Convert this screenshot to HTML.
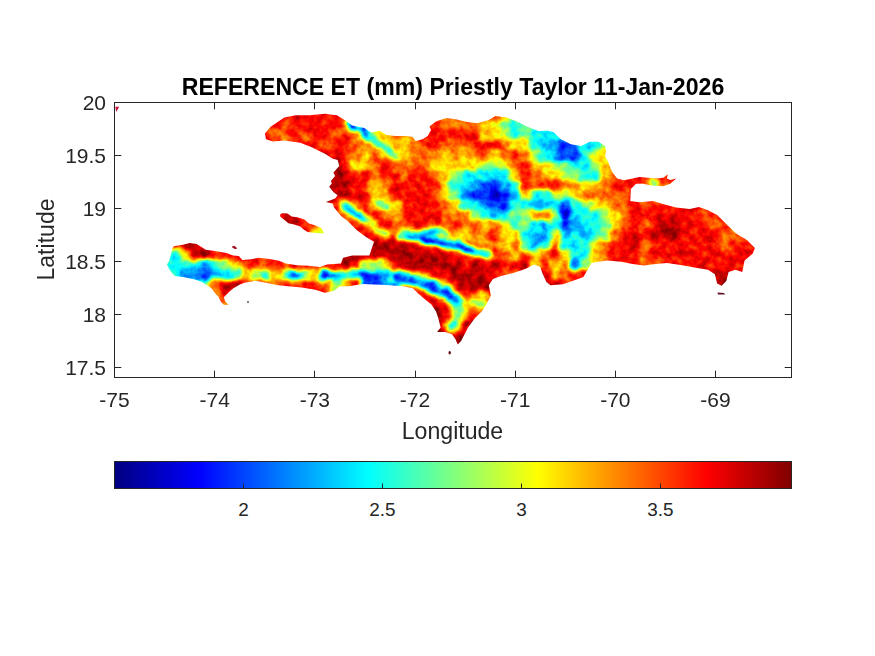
<!DOCTYPE html>
<html><head><meta charset="utf-8"><style>
html,body{margin:0;padding:0;background:#fff;width:875px;height:656px;overflow:hidden}
svg{position:absolute;left:0;top:0}
text{font-family:"Liberation Sans",sans-serif;fill:#262626}
.tk{font-size:21px}
.cb{font-size:18.9px}
.ti{font-size:23.1px;font-weight:bold;fill:#000}
.lb{font-size:23.1px}
</style></head><body>
<svg width="875" height="656" viewBox="0 0 875 656">
<defs><linearGradient id="jetgrad" x1="0" x2="1" y1="0" y2="0"><stop offset="0" stop-color="#000080"/><stop offset="0.125" stop-color="#0000ff"/><stop offset="0.375" stop-color="#00ffff"/><stop offset="0.625" stop-color="#ffff00"/><stop offset="0.875" stop-color="#ff0000"/><stop offset="1" stop-color="#800000"/></linearGradient><filter id="jet" x="0" y="0" width="875" height="656" filterUnits="userSpaceOnUse" color-interpolation-filters="sRGB">
<feTurbulence type="fractalNoise" baseFrequency="0.09" numOctaves="2" seed="11" result="warp"/>
<feDisplacementMap in="SourceGraphic" in2="warp" scale="9" xChannelSelector="R" yChannelSelector="G" result="disp"/>
<feGaussianBlur in="disp" stdDeviation="2" result="b"/>
<feTurbulence type="fractalNoise" baseFrequency="0.14" numOctaves="3" seed="7" result="n"/>
<feColorMatrix in="n" type="matrix" values="1 0 0 0 0  1 0 0 0 0  1 0 0 0 0  0 0 0 0 1" result="ng"/>
<feComposite in="b" in2="ng" operator="arithmetic" k1="0" k2="1" k3="0.22" k4="-0.11" result="v"/>
<feComponentTransfer in="v">
<feFuncR type="table" tableValues="0 0 0 0 0.5 1 1 1 0.5"/>
<feFuncG type="table" tableValues="0 0 0.5 1 1 1 0.5 0 0"/>
<feFuncB type="table" tableValues="0.5 1 1 1 0.5 0 0 0 0"/>
<feFuncA type="identity"/>
</feComponentTransfer>
</filter></defs>
<clipPath id="isl"><polygon points="264.9,133.6 270.6,126.7 284.3,117.6 295.7,115.3 309.4,115.3 325.4,113.7 330.0,114.4 336.9,115.3 345.4,120.4 352.3,125.6 364.3,128.1 371.1,132.4 379.7,130.7 386.6,135.0 395.1,135.9 405.4,135.9 412.3,136.7 415.7,141.0 422.6,139.3 427.7,135.9 431.1,129.9 429.4,126.4 436.3,121.3 446.6,117.9 456.9,119.6 467.1,122.1 477.1,123.3 488.6,119.9 495.4,116.0 506.9,117.6 516.0,121.0 527.4,126.7 538.9,131.3 546.9,130.6 553.7,132.3 560.6,139.1 570.9,144.3 581.1,146.0 589.7,141.7 598.3,141.7 605.1,146.0 606.0,151.1 605.1,156.3 608.6,163.1 612.0,171.7 617.1,178.6 624.0,180.3 632.6,178.6 639.4,176.9 648.0,177.7 656.6,178.6 663.4,177.7 667.7,174.3 666.9,178.6 670.3,180.0 676.3,178.6 670.3,183.7 663.4,186.3 651.4,185.4 642.9,183.7 636.0,183.7 630.9,188.9 630.3,201.1 639.4,202.3 653.1,201.1 664.6,204.6 676.0,207.5 689.7,209.1 698.9,206.9 708.0,210.3 717.1,214.9 726.3,224.0 735.4,233.1 746.9,240.0 754.9,248.0 752.6,253.7 744.6,260.6 742.3,272.0 735.4,269.7 728.6,272.0 726.3,281.1 721.7,285.7 717.1,283.4 714.9,274.3 708.0,269.7 694.3,267.4 680.6,265.1 666.9,262.9 655.4,264.0 644.0,265.6 632.6,264.0 621.1,261.7 607.4,260.6 598.3,261.7 591.4,262.9 583.4,277.0 575.2,280.1 562.9,284.2 550.5,285.2 546.4,282.1 542.3,272.9 540.2,266.7 534.1,264.6 525.8,268.7 513.5,272.9 501.1,275.9 492.9,279.0 488.8,285.2 490.9,295.4 486.3,304.6 481.7,311.4 474.9,318.3 468.0,327.4 464.6,334.3 461.1,341.1 457.7,344.6 455.4,338.9 452.0,334.3 445.1,332.0 437.1,332.0 440.6,327.4 438.3,318.3 436.0,311.4 431.4,304.6 424.6,298.9 417.7,293.1 413.1,288.6 404.0,286.3 385.7,285.1 362.9,284.0 349.1,286.3 340.0,286.3 333.7,290.9 324.6,292.7 315.4,289.7 301.7,287.4 288.0,286.3 276.6,285.1 267.4,282.9 255.0,280.8 251.9,281.5 244.4,282.8 238.9,284.9 233.4,288.3 229.3,291.7 223.8,297.2 225.2,301.4 228.6,304.8 223.8,304.8 221.1,302.0 218.3,296.5 214.9,293.1 212.1,289.0 208.7,286.3 201.9,282.1 195.0,279.4 182.9,277.1 174.9,276.0 171.4,272.6 169.1,269.1 166.9,264.6 169.1,261.1 172.6,248.6 173.7,246.3 182.9,244.7 189.7,242.9 196.6,244.0 202.3,247.4 205.7,249.7 214.9,250.9 226.3,253.1 233.1,255.4 238.9,256.1 242.3,260.0 251.4,259.3 258.3,257.7 269.7,258.9 278.9,260.7 285.7,263.4 297.1,265.3 308.6,265.7 320.0,266.9 327.1,264.6 340.9,263.4 343.1,257.7 352.3,255.4 369.4,255.4 371.7,248.6 374.0,241.7 366.0,237.1 356.9,230.3 347.7,221.1 341.0,216.0 334.3,207.8 332.6,203.6 325.9,201.9 335.1,198.6 337.6,195.2 333.4,191.9 329.2,186.8 331.8,183.5 330.9,181.0 335.1,175.9 333.4,172.6 339.3,165.9 337.6,160.0 332.3,158.5 325.4,154.1 311.7,147.3 300.3,142.7 284.3,140.4 272.9,141.6 266.0,139.3"/><polygon points="280.0,214.8 282.0,213.2 287.6,213.6 291.6,216.4 297.2,217.2 304.4,219.6 308.4,223.2 314.8,225.2 321.2,228.0 324.0,233.2 318.0,233.2 311.6,232.4 307.6,232.0 303.6,229.6 300.4,226.4 294.0,224.4 288.4,223.2 283.6,219.2 280.4,216.8"/></clipPath><g clip-path="url(#isl)"><g filter="url(#jet)"><rect x="150" y="100" width="620" height="270" fill="rgb(219,219,219)"/><rect x="150" y="100" width="10" height="10" fill="rgb(222,222,222)"/><rect x="160" y="100" width="10" height="10" fill="rgb(222,222,222)"/><rect x="170" y="100" width="10" height="10" fill="rgb(222,222,222)"/><rect x="180" y="100" width="10" height="10" fill="rgb(222,222,222)"/><rect x="190" y="100" width="10" height="10" fill="rgb(222,222,222)"/><rect x="200" y="100" width="10" height="10" fill="rgb(222,222,222)"/><rect x="210" y="100" width="10" height="10" fill="rgb(222,222,222)"/><rect x="220" y="100" width="10" height="10" fill="rgb(222,222,222)"/><rect x="230" y="100" width="10" height="10" fill="rgb(222,222,222)"/><rect x="240" y="100" width="10" height="10" fill="rgb(222,222,222)"/><rect x="250" y="100" width="10" height="10" fill="rgb(222,222,222)"/><rect x="260" y="100" width="10" height="10" fill="rgb(222,222,222)"/><rect x="270" y="100" width="10" height="10" fill="rgb(222,222,222)"/><rect x="280" y="100" width="10" height="10" fill="rgb(222,222,222)"/><rect x="290" y="100" width="10" height="10" fill="rgb(222,222,222)"/><rect x="300" y="100" width="10" height="10" fill="rgb(222,222,222)"/><rect x="310" y="100" width="10" height="10" fill="rgb(222,222,222)"/><rect x="320" y="100" width="10" height="10" fill="rgb(222,222,222)"/><rect x="330" y="100" width="10" height="10" fill="rgb(222,222,222)"/><rect x="340" y="100" width="10" height="10" fill="rgb(222,222,222)"/><rect x="350" y="100" width="10" height="10" fill="rgb(196,196,196)"/><rect x="360" y="100" width="10" height="10" fill="rgb(168,168,168)"/><rect x="370" y="100" width="10" height="10" fill="rgb(168,168,168)"/><rect x="380" y="100" width="10" height="10" fill="rgb(168,168,168)"/><rect x="390" y="100" width="10" height="10" fill="rgb(196,196,196)"/><rect x="400" y="100" width="10" height="10" fill="rgb(196,196,196)"/><rect x="410" y="100" width="10" height="10" fill="rgb(196,196,196)"/><rect x="420" y="100" width="10" height="10" fill="rgb(196,196,196)"/><rect x="430" y="100" width="10" height="10" fill="rgb(196,196,196)"/><rect x="440" y="100" width="10" height="10" fill="rgb(196,196,196)"/><rect x="450" y="100" width="10" height="10" fill="rgb(196,196,196)"/><rect x="460" y="100" width="10" height="10" fill="rgb(196,196,196)"/><rect x="470" y="100" width="10" height="10" fill="rgb(196,196,196)"/><rect x="480" y="100" width="10" height="10" fill="rgb(196,196,196)"/><rect x="490" y="100" width="10" height="10" fill="rgb(196,196,196)"/><rect x="500" y="100" width="10" height="10" fill="rgb(168,168,168)"/><rect x="510" y="100" width="10" height="10" fill="rgb(133,133,133)"/><rect x="520" y="100" width="10" height="10" fill="rgb(133,133,133)"/><rect x="530" y="100" width="10" height="10" fill="rgb(97,97,97)"/><rect x="540" y="100" width="10" height="10" fill="rgb(97,97,97)"/><rect x="550" y="100" width="10" height="10" fill="rgb(97,97,97)"/><rect x="560" y="100" width="10" height="10" fill="rgb(97,97,97)"/><rect x="570" y="100" width="10" height="10" fill="rgb(71,71,71)"/><rect x="580" y="100" width="10" height="10" fill="rgb(97,97,97)"/><rect x="590" y="100" width="10" height="10" fill="rgb(97,97,97)"/><rect x="600" y="100" width="10" height="10" fill="rgb(133,133,133)"/><rect x="610" y="100" width="10" height="10" fill="rgb(133,133,133)"/><rect x="620" y="100" width="10" height="10" fill="rgb(133,133,133)"/><rect x="630" y="100" width="10" height="10" fill="rgb(133,133,133)"/><rect x="640" y="100" width="10" height="10" fill="rgb(222,222,222)"/><rect x="650" y="100" width="10" height="10" fill="rgb(222,222,222)"/><rect x="660" y="100" width="10" height="10" fill="rgb(222,222,222)"/><rect x="670" y="100" width="10" height="10" fill="rgb(222,222,222)"/><rect x="680" y="100" width="10" height="10" fill="rgb(222,222,222)"/><rect x="690" y="100" width="10" height="10" fill="rgb(222,222,222)"/><rect x="700" y="100" width="10" height="10" fill="rgb(222,222,222)"/><rect x="710" y="100" width="10" height="10" fill="rgb(222,222,222)"/><rect x="720" y="100" width="10" height="10" fill="rgb(222,222,222)"/><rect x="730" y="100" width="10" height="10" fill="rgb(196,196,196)"/><rect x="740" y="100" width="10" height="10" fill="rgb(196,196,196)"/><rect x="750" y="100" width="10" height="10" fill="rgb(196,196,196)"/><rect x="760" y="100" width="10" height="10" fill="rgb(196,196,196)"/><rect x="150" y="110" width="10" height="10" fill="rgb(222,222,222)"/><rect x="160" y="110" width="10" height="10" fill="rgb(222,222,222)"/><rect x="170" y="110" width="10" height="10" fill="rgb(222,222,222)"/><rect x="180" y="110" width="10" height="10" fill="rgb(222,222,222)"/><rect x="190" y="110" width="10" height="10" fill="rgb(222,222,222)"/><rect x="200" y="110" width="10" height="10" fill="rgb(222,222,222)"/><rect x="210" y="110" width="10" height="10" fill="rgb(222,222,222)"/><rect x="220" y="110" width="10" height="10" fill="rgb(222,222,222)"/><rect x="230" y="110" width="10" height="10" fill="rgb(222,222,222)"/><rect x="240" y="110" width="10" height="10" fill="rgb(222,222,222)"/><rect x="250" y="110" width="10" height="10" fill="rgb(222,222,222)"/><rect x="260" y="110" width="10" height="10" fill="rgb(222,222,222)"/><rect x="270" y="110" width="10" height="10" fill="rgb(222,222,222)"/><rect x="280" y="110" width="10" height="10" fill="rgb(222,222,222)"/><rect x="290" y="110" width="10" height="10" fill="rgb(222,222,222)"/><rect x="300" y="110" width="10" height="10" fill="rgb(222,222,222)"/><rect x="310" y="110" width="10" height="10" fill="rgb(222,222,222)"/><rect x="320" y="110" width="10" height="10" fill="rgb(222,222,222)"/><rect x="330" y="110" width="10" height="10" fill="rgb(222,222,222)"/><rect x="340" y="110" width="10" height="10" fill="rgb(222,222,222)"/><rect x="350" y="110" width="10" height="10" fill="rgb(196,196,196)"/><rect x="360" y="110" width="10" height="10" fill="rgb(168,168,168)"/><rect x="370" y="110" width="10" height="10" fill="rgb(168,168,168)"/><rect x="380" y="110" width="10" height="10" fill="rgb(168,168,168)"/><rect x="390" y="110" width="10" height="10" fill="rgb(196,196,196)"/><rect x="400" y="110" width="10" height="10" fill="rgb(196,196,196)"/><rect x="410" y="110" width="10" height="10" fill="rgb(196,196,196)"/><rect x="420" y="110" width="10" height="10" fill="rgb(196,196,196)"/><rect x="430" y="110" width="10" height="10" fill="rgb(196,196,196)"/><rect x="440" y="110" width="10" height="10" fill="rgb(196,196,196)"/><rect x="450" y="110" width="10" height="10" fill="rgb(196,196,196)"/><rect x="460" y="110" width="10" height="10" fill="rgb(196,196,196)"/><rect x="470" y="110" width="10" height="10" fill="rgb(196,196,196)"/><rect x="480" y="110" width="10" height="10" fill="rgb(196,196,196)"/><rect x="490" y="110" width="10" height="10" fill="rgb(196,196,196)"/><rect x="500" y="110" width="10" height="10" fill="rgb(168,168,168)"/><rect x="510" y="110" width="10" height="10" fill="rgb(133,133,133)"/><rect x="520" y="110" width="10" height="10" fill="rgb(133,133,133)"/><rect x="530" y="110" width="10" height="10" fill="rgb(97,97,97)"/><rect x="540" y="110" width="10" height="10" fill="rgb(97,97,97)"/><rect x="550" y="110" width="10" height="10" fill="rgb(97,97,97)"/><rect x="560" y="110" width="10" height="10" fill="rgb(97,97,97)"/><rect x="570" y="110" width="10" height="10" fill="rgb(71,71,71)"/><rect x="580" y="110" width="10" height="10" fill="rgb(97,97,97)"/><rect x="590" y="110" width="10" height="10" fill="rgb(97,97,97)"/><rect x="600" y="110" width="10" height="10" fill="rgb(133,133,133)"/><rect x="610" y="110" width="10" height="10" fill="rgb(133,133,133)"/><rect x="620" y="110" width="10" height="10" fill="rgb(133,133,133)"/><rect x="630" y="110" width="10" height="10" fill="rgb(133,133,133)"/><rect x="640" y="110" width="10" height="10" fill="rgb(222,222,222)"/><rect x="650" y="110" width="10" height="10" fill="rgb(222,222,222)"/><rect x="660" y="110" width="10" height="10" fill="rgb(222,222,222)"/><rect x="670" y="110" width="10" height="10" fill="rgb(222,222,222)"/><rect x="680" y="110" width="10" height="10" fill="rgb(222,222,222)"/><rect x="690" y="110" width="10" height="10" fill="rgb(222,222,222)"/><rect x="700" y="110" width="10" height="10" fill="rgb(222,222,222)"/><rect x="710" y="110" width="10" height="10" fill="rgb(222,222,222)"/><rect x="720" y="110" width="10" height="10" fill="rgb(222,222,222)"/><rect x="730" y="110" width="10" height="10" fill="rgb(196,196,196)"/><rect x="740" y="110" width="10" height="10" fill="rgb(196,196,196)"/><rect x="750" y="110" width="10" height="10" fill="rgb(196,196,196)"/><rect x="760" y="110" width="10" height="10" fill="rgb(196,196,196)"/><rect x="150" y="120" width="10" height="10" fill="rgb(222,222,222)"/><rect x="160" y="120" width="10" height="10" fill="rgb(222,222,222)"/><rect x="170" y="120" width="10" height="10" fill="rgb(222,222,222)"/><rect x="180" y="120" width="10" height="10" fill="rgb(222,222,222)"/><rect x="190" y="120" width="10" height="10" fill="rgb(222,222,222)"/><rect x="200" y="120" width="10" height="10" fill="rgb(222,222,222)"/><rect x="210" y="120" width="10" height="10" fill="rgb(222,222,222)"/><rect x="220" y="120" width="10" height="10" fill="rgb(222,222,222)"/><rect x="230" y="120" width="10" height="10" fill="rgb(222,222,222)"/><rect x="240" y="120" width="10" height="10" fill="rgb(222,222,222)"/><rect x="250" y="120" width="10" height="10" fill="rgb(222,222,222)"/><rect x="260" y="120" width="10" height="10" fill="rgb(222,222,222)"/><rect x="270" y="120" width="10" height="10" fill="rgb(222,222,222)"/><rect x="280" y="120" width="10" height="10" fill="rgb(196,196,196)"/><rect x="290" y="120" width="10" height="10" fill="rgb(222,222,222)"/><rect x="300" y="120" width="10" height="10" fill="rgb(222,222,222)"/><rect x="310" y="120" width="10" height="10" fill="rgb(222,222,222)"/><rect x="320" y="120" width="10" height="10" fill="rgb(222,222,222)"/><rect x="330" y="120" width="10" height="10" fill="rgb(222,222,222)"/><rect x="340" y="120" width="10" height="10" fill="rgb(196,196,196)"/><rect x="350" y="120" width="10" height="10" fill="rgb(196,196,196)"/><rect x="360" y="120" width="10" height="10" fill="rgb(168,168,168)"/><rect x="370" y="120" width="10" height="10" fill="rgb(168,168,168)"/><rect x="380" y="120" width="10" height="10" fill="rgb(168,168,168)"/><rect x="390" y="120" width="10" height="10" fill="rgb(196,196,196)"/><rect x="400" y="120" width="10" height="10" fill="rgb(196,196,196)"/><rect x="410" y="120" width="10" height="10" fill="rgb(222,222,222)"/><rect x="420" y="120" width="10" height="10" fill="rgb(222,222,222)"/><rect x="430" y="120" width="10" height="10" fill="rgb(222,222,222)"/><rect x="440" y="120" width="10" height="10" fill="rgb(196,196,196)"/><rect x="450" y="120" width="10" height="10" fill="rgb(196,196,196)"/><rect x="460" y="120" width="10" height="10" fill="rgb(196,196,196)"/><rect x="470" y="120" width="10" height="10" fill="rgb(196,196,196)"/><rect x="480" y="120" width="10" height="10" fill="rgb(168,168,168)"/><rect x="490" y="120" width="10" height="10" fill="rgb(168,168,168)"/><rect x="500" y="120" width="10" height="10" fill="rgb(133,133,133)"/><rect x="510" y="120" width="10" height="10" fill="rgb(97,97,97)"/><rect x="520" y="120" width="10" height="10" fill="rgb(133,133,133)"/><rect x="530" y="120" width="10" height="10" fill="rgb(97,97,97)"/><rect x="540" y="120" width="10" height="10" fill="rgb(97,97,97)"/><rect x="550" y="120" width="10" height="10" fill="rgb(97,97,97)"/><rect x="560" y="120" width="10" height="10" fill="rgb(97,97,97)"/><rect x="570" y="120" width="10" height="10" fill="rgb(71,71,71)"/><rect x="580" y="120" width="10" height="10" fill="rgb(97,97,97)"/><rect x="590" y="120" width="10" height="10" fill="rgb(97,97,97)"/><rect x="600" y="120" width="10" height="10" fill="rgb(133,133,133)"/><rect x="610" y="120" width="10" height="10" fill="rgb(133,133,133)"/><rect x="620" y="120" width="10" height="10" fill="rgb(133,133,133)"/><rect x="630" y="120" width="10" height="10" fill="rgb(133,133,133)"/><rect x="640" y="120" width="10" height="10" fill="rgb(222,222,222)"/><rect x="650" y="120" width="10" height="10" fill="rgb(222,222,222)"/><rect x="660" y="120" width="10" height="10" fill="rgb(222,222,222)"/><rect x="670" y="120" width="10" height="10" fill="rgb(222,222,222)"/><rect x="680" y="120" width="10" height="10" fill="rgb(222,222,222)"/><rect x="690" y="120" width="10" height="10" fill="rgb(222,222,222)"/><rect x="700" y="120" width="10" height="10" fill="rgb(222,222,222)"/><rect x="710" y="120" width="10" height="10" fill="rgb(222,222,222)"/><rect x="720" y="120" width="10" height="10" fill="rgb(222,222,222)"/><rect x="730" y="120" width="10" height="10" fill="rgb(196,196,196)"/><rect x="740" y="120" width="10" height="10" fill="rgb(196,196,196)"/><rect x="750" y="120" width="10" height="10" fill="rgb(196,196,196)"/><rect x="760" y="120" width="10" height="10" fill="rgb(196,196,196)"/><rect x="150" y="130" width="10" height="10" fill="rgb(222,222,222)"/><rect x="160" y="130" width="10" height="10" fill="rgb(222,222,222)"/><rect x="170" y="130" width="10" height="10" fill="rgb(222,222,222)"/><rect x="180" y="130" width="10" height="10" fill="rgb(222,222,222)"/><rect x="190" y="130" width="10" height="10" fill="rgb(222,222,222)"/><rect x="200" y="130" width="10" height="10" fill="rgb(222,222,222)"/><rect x="210" y="130" width="10" height="10" fill="rgb(222,222,222)"/><rect x="220" y="130" width="10" height="10" fill="rgb(222,222,222)"/><rect x="230" y="130" width="10" height="10" fill="rgb(222,222,222)"/><rect x="240" y="130" width="10" height="10" fill="rgb(222,222,222)"/><rect x="250" y="130" width="10" height="10" fill="rgb(222,222,222)"/><rect x="260" y="130" width="10" height="10" fill="rgb(222,222,222)"/><rect x="270" y="130" width="10" height="10" fill="rgb(196,196,196)"/><rect x="280" y="130" width="10" height="10" fill="rgb(196,196,196)"/><rect x="290" y="130" width="10" height="10" fill="rgb(222,222,222)"/><rect x="300" y="130" width="10" height="10" fill="rgb(196,196,196)"/><rect x="310" y="130" width="10" height="10" fill="rgb(222,222,222)"/><rect x="320" y="130" width="10" height="10" fill="rgb(222,222,222)"/><rect x="330" y="130" width="10" height="10" fill="rgb(196,196,196)"/><rect x="340" y="130" width="10" height="10" fill="rgb(222,222,222)"/><rect x="350" y="130" width="10" height="10" fill="rgb(196,196,196)"/><rect x="360" y="130" width="10" height="10" fill="rgb(168,168,168)"/><rect x="370" y="130" width="10" height="10" fill="rgb(168,168,168)"/><rect x="380" y="130" width="10" height="10" fill="rgb(168,168,168)"/><rect x="390" y="130" width="10" height="10" fill="rgb(196,196,196)"/><rect x="400" y="130" width="10" height="10" fill="rgb(196,196,196)"/><rect x="410" y="130" width="10" height="10" fill="rgb(196,196,196)"/><rect x="420" y="130" width="10" height="10" fill="rgb(222,222,222)"/><rect x="430" y="130" width="10" height="10" fill="rgb(222,222,222)"/><rect x="440" y="130" width="10" height="10" fill="rgb(222,222,222)"/><rect x="450" y="130" width="10" height="10" fill="rgb(222,222,222)"/><rect x="460" y="130" width="10" height="10" fill="rgb(222,222,222)"/><rect x="470" y="130" width="10" height="10" fill="rgb(222,222,222)"/><rect x="480" y="130" width="10" height="10" fill="rgb(168,168,168)"/><rect x="490" y="130" width="10" height="10" fill="rgb(168,168,168)"/><rect x="500" y="130" width="10" height="10" fill="rgb(133,133,133)"/><rect x="510" y="130" width="10" height="10" fill="rgb(97,97,97)"/><rect x="520" y="130" width="10" height="10" fill="rgb(133,133,133)"/><rect x="530" y="130" width="10" height="10" fill="rgb(97,97,97)"/><rect x="540" y="130" width="10" height="10" fill="rgb(97,97,97)"/><rect x="550" y="130" width="10" height="10" fill="rgb(97,97,97)"/><rect x="560" y="130" width="10" height="10" fill="rgb(97,97,97)"/><rect x="570" y="130" width="10" height="10" fill="rgb(71,71,71)"/><rect x="580" y="130" width="10" height="10" fill="rgb(97,97,97)"/><rect x="590" y="130" width="10" height="10" fill="rgb(97,97,97)"/><rect x="600" y="130" width="10" height="10" fill="rgb(133,133,133)"/><rect x="610" y="130" width="10" height="10" fill="rgb(133,133,133)"/><rect x="620" y="130" width="10" height="10" fill="rgb(133,133,133)"/><rect x="630" y="130" width="10" height="10" fill="rgb(133,133,133)"/><rect x="640" y="130" width="10" height="10" fill="rgb(222,222,222)"/><rect x="650" y="130" width="10" height="10" fill="rgb(222,222,222)"/><rect x="660" y="130" width="10" height="10" fill="rgb(222,222,222)"/><rect x="670" y="130" width="10" height="10" fill="rgb(222,222,222)"/><rect x="680" y="130" width="10" height="10" fill="rgb(222,222,222)"/><rect x="690" y="130" width="10" height="10" fill="rgb(222,222,222)"/><rect x="700" y="130" width="10" height="10" fill="rgb(222,222,222)"/><rect x="710" y="130" width="10" height="10" fill="rgb(222,222,222)"/><rect x="720" y="130" width="10" height="10" fill="rgb(222,222,222)"/><rect x="730" y="130" width="10" height="10" fill="rgb(196,196,196)"/><rect x="740" y="130" width="10" height="10" fill="rgb(196,196,196)"/><rect x="750" y="130" width="10" height="10" fill="rgb(196,196,196)"/><rect x="760" y="130" width="10" height="10" fill="rgb(196,196,196)"/><rect x="150" y="140" width="10" height="10" fill="rgb(222,222,222)"/><rect x="160" y="140" width="10" height="10" fill="rgb(222,222,222)"/><rect x="170" y="140" width="10" height="10" fill="rgb(222,222,222)"/><rect x="180" y="140" width="10" height="10" fill="rgb(222,222,222)"/><rect x="190" y="140" width="10" height="10" fill="rgb(222,222,222)"/><rect x="200" y="140" width="10" height="10" fill="rgb(222,222,222)"/><rect x="210" y="140" width="10" height="10" fill="rgb(222,222,222)"/><rect x="220" y="140" width="10" height="10" fill="rgb(222,222,222)"/><rect x="230" y="140" width="10" height="10" fill="rgb(222,222,222)"/><rect x="240" y="140" width="10" height="10" fill="rgb(222,222,222)"/><rect x="250" y="140" width="10" height="10" fill="rgb(222,222,222)"/><rect x="260" y="140" width="10" height="10" fill="rgb(222,222,222)"/><rect x="270" y="140" width="10" height="10" fill="rgb(222,222,222)"/><rect x="280" y="140" width="10" height="10" fill="rgb(196,196,196)"/><rect x="290" y="140" width="10" height="10" fill="rgb(222,222,222)"/><rect x="300" y="140" width="10" height="10" fill="rgb(222,222,222)"/><rect x="310" y="140" width="10" height="10" fill="rgb(222,222,222)"/><rect x="320" y="140" width="10" height="10" fill="rgb(196,196,196)"/><rect x="330" y="140" width="10" height="10" fill="rgb(222,222,222)"/><rect x="340" y="140" width="10" height="10" fill="rgb(222,222,222)"/><rect x="350" y="140" width="10" height="10" fill="rgb(196,196,196)"/><rect x="360" y="140" width="10" height="10" fill="rgb(196,196,196)"/><rect x="370" y="140" width="10" height="10" fill="rgb(168,168,168)"/><rect x="380" y="140" width="10" height="10" fill="rgb(168,168,168)"/><rect x="390" y="140" width="10" height="10" fill="rgb(168,168,168)"/><rect x="400" y="140" width="10" height="10" fill="rgb(168,168,168)"/><rect x="410" y="140" width="10" height="10" fill="rgb(196,196,196)"/><rect x="420" y="140" width="10" height="10" fill="rgb(222,222,222)"/><rect x="430" y="140" width="10" height="10" fill="rgb(222,222,222)"/><rect x="440" y="140" width="10" height="10" fill="rgb(196,196,196)"/><rect x="450" y="140" width="10" height="10" fill="rgb(196,196,196)"/><rect x="460" y="140" width="10" height="10" fill="rgb(196,196,196)"/><rect x="470" y="140" width="10" height="10" fill="rgb(222,222,222)"/><rect x="480" y="140" width="10" height="10" fill="rgb(242,242,242)"/><rect x="490" y="140" width="10" height="10" fill="rgb(222,222,222)"/><rect x="500" y="140" width="10" height="10" fill="rgb(196,196,196)"/><rect x="510" y="140" width="10" height="10" fill="rgb(168,168,168)"/><rect x="520" y="140" width="10" height="10" fill="rgb(168,168,168)"/><rect x="530" y="140" width="10" height="10" fill="rgb(97,97,97)"/><rect x="540" y="140" width="10" height="10" fill="rgb(71,71,71)"/><rect x="550" y="140" width="10" height="10" fill="rgb(71,71,71)"/><rect x="560" y="140" width="10" height="10" fill="rgb(43,43,43)"/><rect x="570" y="140" width="10" height="10" fill="rgb(71,71,71)"/><rect x="580" y="140" width="10" height="10" fill="rgb(97,97,97)"/><rect x="590" y="140" width="10" height="10" fill="rgb(97,97,97)"/><rect x="600" y="140" width="10" height="10" fill="rgb(133,133,133)"/><rect x="610" y="140" width="10" height="10" fill="rgb(133,133,133)"/><rect x="620" y="140" width="10" height="10" fill="rgb(133,133,133)"/><rect x="630" y="140" width="10" height="10" fill="rgb(133,133,133)"/><rect x="640" y="140" width="10" height="10" fill="rgb(222,222,222)"/><rect x="650" y="140" width="10" height="10" fill="rgb(222,222,222)"/><rect x="660" y="140" width="10" height="10" fill="rgb(222,222,222)"/><rect x="670" y="140" width="10" height="10" fill="rgb(222,222,222)"/><rect x="680" y="140" width="10" height="10" fill="rgb(222,222,222)"/><rect x="690" y="140" width="10" height="10" fill="rgb(222,222,222)"/><rect x="700" y="140" width="10" height="10" fill="rgb(222,222,222)"/><rect x="710" y="140" width="10" height="10" fill="rgb(222,222,222)"/><rect x="720" y="140" width="10" height="10" fill="rgb(222,222,222)"/><rect x="730" y="140" width="10" height="10" fill="rgb(196,196,196)"/><rect x="740" y="140" width="10" height="10" fill="rgb(196,196,196)"/><rect x="750" y="140" width="10" height="10" fill="rgb(196,196,196)"/><rect x="760" y="140" width="10" height="10" fill="rgb(196,196,196)"/><rect x="150" y="150" width="10" height="10" fill="rgb(222,222,222)"/><rect x="160" y="150" width="10" height="10" fill="rgb(222,222,222)"/><rect x="170" y="150" width="10" height="10" fill="rgb(222,222,222)"/><rect x="180" y="150" width="10" height="10" fill="rgb(222,222,222)"/><rect x="190" y="150" width="10" height="10" fill="rgb(222,222,222)"/><rect x="200" y="150" width="10" height="10" fill="rgb(222,222,222)"/><rect x="210" y="150" width="10" height="10" fill="rgb(222,222,222)"/><rect x="220" y="150" width="10" height="10" fill="rgb(222,222,222)"/><rect x="230" y="150" width="10" height="10" fill="rgb(222,222,222)"/><rect x="240" y="150" width="10" height="10" fill="rgb(222,222,222)"/><rect x="250" y="150" width="10" height="10" fill="rgb(222,222,222)"/><rect x="260" y="150" width="10" height="10" fill="rgb(222,222,222)"/><rect x="270" y="150" width="10" height="10" fill="rgb(222,222,222)"/><rect x="280" y="150" width="10" height="10" fill="rgb(196,196,196)"/><rect x="290" y="150" width="10" height="10" fill="rgb(222,222,222)"/><rect x="300" y="150" width="10" height="10" fill="rgb(222,222,222)"/><rect x="310" y="150" width="10" height="10" fill="rgb(222,222,222)"/><rect x="320" y="150" width="10" height="10" fill="rgb(242,242,242)"/><rect x="330" y="150" width="10" height="10" fill="rgb(222,222,222)"/><rect x="340" y="150" width="10" height="10" fill="rgb(222,222,222)"/><rect x="350" y="150" width="10" height="10" fill="rgb(196,196,196)"/><rect x="360" y="150" width="10" height="10" fill="rgb(168,168,168)"/><rect x="370" y="150" width="10" height="10" fill="rgb(196,196,196)"/><rect x="380" y="150" width="10" height="10" fill="rgb(168,168,168)"/><rect x="390" y="150" width="10" height="10" fill="rgb(168,168,168)"/><rect x="400" y="150" width="10" height="10" fill="rgb(168,168,168)"/><rect x="410" y="150" width="10" height="10" fill="rgb(196,196,196)"/><rect x="420" y="150" width="10" height="10" fill="rgb(196,196,196)"/><rect x="430" y="150" width="10" height="10" fill="rgb(196,196,196)"/><rect x="440" y="150" width="10" height="10" fill="rgb(168,168,168)"/><rect x="450" y="150" width="10" height="10" fill="rgb(196,196,196)"/><rect x="460" y="150" width="10" height="10" fill="rgb(168,168,168)"/><rect x="470" y="150" width="10" height="10" fill="rgb(196,196,196)"/><rect x="480" y="150" width="10" height="10" fill="rgb(196,196,196)"/><rect x="490" y="150" width="10" height="10" fill="rgb(168,168,168)"/><rect x="500" y="150" width="10" height="10" fill="rgb(196,196,196)"/><rect x="510" y="150" width="10" height="10" fill="rgb(222,222,222)"/><rect x="520" y="150" width="10" height="10" fill="rgb(196,196,196)"/><rect x="530" y="150" width="10" height="10" fill="rgb(133,133,133)"/><rect x="540" y="150" width="10" height="10" fill="rgb(97,97,97)"/><rect x="550" y="150" width="10" height="10" fill="rgb(71,71,71)"/><rect x="560" y="150" width="10" height="10" fill="rgb(43,43,43)"/><rect x="570" y="150" width="10" height="10" fill="rgb(43,43,43)"/><rect x="580" y="150" width="10" height="10" fill="rgb(97,97,97)"/><rect x="590" y="150" width="10" height="10" fill="rgb(168,168,168)"/><rect x="600" y="150" width="10" height="10" fill="rgb(168,168,168)"/><rect x="610" y="150" width="10" height="10" fill="rgb(168,168,168)"/><rect x="620" y="150" width="10" height="10" fill="rgb(168,168,168)"/><rect x="630" y="150" width="10" height="10" fill="rgb(168,168,168)"/><rect x="640" y="150" width="10" height="10" fill="rgb(222,222,222)"/><rect x="650" y="150" width="10" height="10" fill="rgb(222,222,222)"/><rect x="660" y="150" width="10" height="10" fill="rgb(222,222,222)"/><rect x="670" y="150" width="10" height="10" fill="rgb(222,222,222)"/><rect x="680" y="150" width="10" height="10" fill="rgb(222,222,222)"/><rect x="690" y="150" width="10" height="10" fill="rgb(222,222,222)"/><rect x="700" y="150" width="10" height="10" fill="rgb(222,222,222)"/><rect x="710" y="150" width="10" height="10" fill="rgb(222,222,222)"/><rect x="720" y="150" width="10" height="10" fill="rgb(222,222,222)"/><rect x="730" y="150" width="10" height="10" fill="rgb(196,196,196)"/><rect x="740" y="150" width="10" height="10" fill="rgb(196,196,196)"/><rect x="750" y="150" width="10" height="10" fill="rgb(196,196,196)"/><rect x="760" y="150" width="10" height="10" fill="rgb(196,196,196)"/><rect x="150" y="160" width="10" height="10" fill="rgb(222,222,222)"/><rect x="160" y="160" width="10" height="10" fill="rgb(222,222,222)"/><rect x="170" y="160" width="10" height="10" fill="rgb(222,222,222)"/><rect x="180" y="160" width="10" height="10" fill="rgb(242,242,242)"/><rect x="190" y="160" width="10" height="10" fill="rgb(242,242,242)"/><rect x="200" y="160" width="10" height="10" fill="rgb(222,222,222)"/><rect x="210" y="160" width="10" height="10" fill="rgb(222,222,222)"/><rect x="220" y="160" width="10" height="10" fill="rgb(222,222,222)"/><rect x="230" y="160" width="10" height="10" fill="rgb(222,222,222)"/><rect x="240" y="160" width="10" height="10" fill="rgb(222,222,222)"/><rect x="250" y="160" width="10" height="10" fill="rgb(222,222,222)"/><rect x="260" y="160" width="10" height="10" fill="rgb(222,222,222)"/><rect x="270" y="160" width="10" height="10" fill="rgb(222,222,222)"/><rect x="280" y="160" width="10" height="10" fill="rgb(196,196,196)"/><rect x="290" y="160" width="10" height="10" fill="rgb(222,222,222)"/><rect x="300" y="160" width="10" height="10" fill="rgb(222,222,222)"/><rect x="310" y="160" width="10" height="10" fill="rgb(222,222,222)"/><rect x="320" y="160" width="10" height="10" fill="rgb(242,242,242)"/><rect x="330" y="160" width="10" height="10" fill="rgb(242,242,242)"/><rect x="340" y="160" width="10" height="10" fill="rgb(222,222,222)"/><rect x="350" y="160" width="10" height="10" fill="rgb(168,168,168)"/><rect x="360" y="160" width="10" height="10" fill="rgb(168,168,168)"/><rect x="370" y="160" width="10" height="10" fill="rgb(196,196,196)"/><rect x="380" y="160" width="10" height="10" fill="rgb(222,222,222)"/><rect x="390" y="160" width="10" height="10" fill="rgb(196,196,196)"/><rect x="400" y="160" width="10" height="10" fill="rgb(196,196,196)"/><rect x="410" y="160" width="10" height="10" fill="rgb(196,196,196)"/><rect x="420" y="160" width="10" height="10" fill="rgb(196,196,196)"/><rect x="430" y="160" width="10" height="10" fill="rgb(168,168,168)"/><rect x="440" y="160" width="10" height="10" fill="rgb(168,168,168)"/><rect x="450" y="160" width="10" height="10" fill="rgb(168,168,168)"/><rect x="460" y="160" width="10" height="10" fill="rgb(168,168,168)"/><rect x="470" y="160" width="10" height="10" fill="rgb(168,168,168)"/><rect x="480" y="160" width="10" height="10" fill="rgb(133,133,133)"/><rect x="490" y="160" width="10" height="10" fill="rgb(133,133,133)"/><rect x="500" y="160" width="10" height="10" fill="rgb(168,168,168)"/><rect x="510" y="160" width="10" height="10" fill="rgb(196,196,196)"/><rect x="520" y="160" width="10" height="10" fill="rgb(222,222,222)"/><rect x="530" y="160" width="10" height="10" fill="rgb(168,168,168)"/><rect x="540" y="160" width="10" height="10" fill="rgb(168,168,168)"/><rect x="550" y="160" width="10" height="10" fill="rgb(133,133,133)"/><rect x="560" y="160" width="10" height="10" fill="rgb(133,133,133)"/><rect x="570" y="160" width="10" height="10" fill="rgb(97,97,97)"/><rect x="580" y="160" width="10" height="10" fill="rgb(97,97,97)"/><rect x="590" y="160" width="10" height="10" fill="rgb(133,133,133)"/><rect x="600" y="160" width="10" height="10" fill="rgb(168,168,168)"/><rect x="610" y="160" width="10" height="10" fill="rgb(168,168,168)"/><rect x="620" y="160" width="10" height="10" fill="rgb(168,168,168)"/><rect x="630" y="160" width="10" height="10" fill="rgb(222,222,222)"/><rect x="640" y="160" width="10" height="10" fill="rgb(222,222,222)"/><rect x="650" y="160" width="10" height="10" fill="rgb(222,222,222)"/><rect x="660" y="160" width="10" height="10" fill="rgb(222,222,222)"/><rect x="670" y="160" width="10" height="10" fill="rgb(222,222,222)"/><rect x="680" y="160" width="10" height="10" fill="rgb(222,222,222)"/><rect x="690" y="160" width="10" height="10" fill="rgb(222,222,222)"/><rect x="700" y="160" width="10" height="10" fill="rgb(222,222,222)"/><rect x="710" y="160" width="10" height="10" fill="rgb(222,222,222)"/><rect x="720" y="160" width="10" height="10" fill="rgb(222,222,222)"/><rect x="730" y="160" width="10" height="10" fill="rgb(196,196,196)"/><rect x="740" y="160" width="10" height="10" fill="rgb(196,196,196)"/><rect x="750" y="160" width="10" height="10" fill="rgb(196,196,196)"/><rect x="760" y="160" width="10" height="10" fill="rgb(196,196,196)"/><rect x="150" y="170" width="10" height="10" fill="rgb(222,222,222)"/><rect x="160" y="170" width="10" height="10" fill="rgb(222,222,222)"/><rect x="170" y="170" width="10" height="10" fill="rgb(222,222,222)"/><rect x="180" y="170" width="10" height="10" fill="rgb(242,242,242)"/><rect x="190" y="170" width="10" height="10" fill="rgb(242,242,242)"/><rect x="200" y="170" width="10" height="10" fill="rgb(222,222,222)"/><rect x="210" y="170" width="10" height="10" fill="rgb(222,222,222)"/><rect x="220" y="170" width="10" height="10" fill="rgb(222,222,222)"/><rect x="230" y="170" width="10" height="10" fill="rgb(222,222,222)"/><rect x="240" y="170" width="10" height="10" fill="rgb(222,222,222)"/><rect x="250" y="170" width="10" height="10" fill="rgb(222,222,222)"/><rect x="260" y="170" width="10" height="10" fill="rgb(222,222,222)"/><rect x="270" y="170" width="10" height="10" fill="rgb(222,222,222)"/><rect x="280" y="170" width="10" height="10" fill="rgb(196,196,196)"/><rect x="290" y="170" width="10" height="10" fill="rgb(222,222,222)"/><rect x="300" y="170" width="10" height="10" fill="rgb(222,222,222)"/><rect x="310" y="170" width="10" height="10" fill="rgb(242,242,242)"/><rect x="320" y="170" width="10" height="10" fill="rgb(242,242,242)"/><rect x="330" y="170" width="10" height="10" fill="rgb(242,242,242)"/><rect x="340" y="170" width="10" height="10" fill="rgb(242,242,242)"/><rect x="350" y="170" width="10" height="10" fill="rgb(222,222,222)"/><rect x="360" y="170" width="10" height="10" fill="rgb(222,222,222)"/><rect x="370" y="170" width="10" height="10" fill="rgb(196,196,196)"/><rect x="380" y="170" width="10" height="10" fill="rgb(222,222,222)"/><rect x="390" y="170" width="10" height="10" fill="rgb(222,222,222)"/><rect x="400" y="170" width="10" height="10" fill="rgb(196,196,196)"/><rect x="410" y="170" width="10" height="10" fill="rgb(222,222,222)"/><rect x="420" y="170" width="10" height="10" fill="rgb(222,222,222)"/><rect x="430" y="170" width="10" height="10" fill="rgb(196,196,196)"/><rect x="440" y="170" width="10" height="10" fill="rgb(168,168,168)"/><rect x="450" y="170" width="10" height="10" fill="rgb(133,133,133)"/><rect x="460" y="170" width="10" height="10" fill="rgb(97,97,97)"/><rect x="470" y="170" width="10" height="10" fill="rgb(97,97,97)"/><rect x="480" y="170" width="10" height="10" fill="rgb(97,97,97)"/><rect x="490" y="170" width="10" height="10" fill="rgb(97,97,97)"/><rect x="500" y="170" width="10" height="10" fill="rgb(97,97,97)"/><rect x="510" y="170" width="10" height="10" fill="rgb(168,168,168)"/><rect x="520" y="170" width="10" height="10" fill="rgb(222,222,222)"/><rect x="530" y="170" width="10" height="10" fill="rgb(196,196,196)"/><rect x="540" y="170" width="10" height="10" fill="rgb(168,168,168)"/><rect x="550" y="170" width="10" height="10" fill="rgb(168,168,168)"/><rect x="560" y="170" width="10" height="10" fill="rgb(133,133,133)"/><rect x="570" y="170" width="10" height="10" fill="rgb(133,133,133)"/><rect x="580" y="170" width="10" height="10" fill="rgb(97,97,97)"/><rect x="590" y="170" width="10" height="10" fill="rgb(97,97,97)"/><rect x="600" y="170" width="10" height="10" fill="rgb(168,168,168)"/><rect x="610" y="170" width="10" height="10" fill="rgb(196,196,196)"/><rect x="620" y="170" width="10" height="10" fill="rgb(196,196,196)"/><rect x="630" y="170" width="10" height="10" fill="rgb(222,222,222)"/><rect x="640" y="170" width="10" height="10" fill="rgb(222,222,222)"/><rect x="650" y="170" width="10" height="10" fill="rgb(222,222,222)"/><rect x="660" y="170" width="10" height="10" fill="rgb(222,222,222)"/><rect x="670" y="170" width="10" height="10" fill="rgb(222,222,222)"/><rect x="680" y="170" width="10" height="10" fill="rgb(222,222,222)"/><rect x="690" y="170" width="10" height="10" fill="rgb(222,222,222)"/><rect x="700" y="170" width="10" height="10" fill="rgb(222,222,222)"/><rect x="710" y="170" width="10" height="10" fill="rgb(222,222,222)"/><rect x="720" y="170" width="10" height="10" fill="rgb(222,222,222)"/><rect x="730" y="170" width="10" height="10" fill="rgb(196,196,196)"/><rect x="740" y="170" width="10" height="10" fill="rgb(196,196,196)"/><rect x="750" y="170" width="10" height="10" fill="rgb(196,196,196)"/><rect x="760" y="170" width="10" height="10" fill="rgb(196,196,196)"/><rect x="150" y="180" width="10" height="10" fill="rgb(222,222,222)"/><rect x="160" y="180" width="10" height="10" fill="rgb(222,222,222)"/><rect x="170" y="180" width="10" height="10" fill="rgb(222,222,222)"/><rect x="180" y="180" width="10" height="10" fill="rgb(242,242,242)"/><rect x="190" y="180" width="10" height="10" fill="rgb(242,242,242)"/><rect x="200" y="180" width="10" height="10" fill="rgb(222,222,222)"/><rect x="210" y="180" width="10" height="10" fill="rgb(222,222,222)"/><rect x="220" y="180" width="10" height="10" fill="rgb(222,222,222)"/><rect x="230" y="180" width="10" height="10" fill="rgb(222,222,222)"/><rect x="240" y="180" width="10" height="10" fill="rgb(222,222,222)"/><rect x="250" y="180" width="10" height="10" fill="rgb(222,222,222)"/><rect x="260" y="180" width="10" height="10" fill="rgb(222,222,222)"/><rect x="270" y="180" width="10" height="10" fill="rgb(222,222,222)"/><rect x="280" y="180" width="10" height="10" fill="rgb(242,242,242)"/><rect x="290" y="180" width="10" height="10" fill="rgb(222,222,222)"/><rect x="300" y="180" width="10" height="10" fill="rgb(242,242,242)"/><rect x="310" y="180" width="10" height="10" fill="rgb(242,242,242)"/><rect x="320" y="180" width="10" height="10" fill="rgb(242,242,242)"/><rect x="330" y="180" width="10" height="10" fill="rgb(242,242,242)"/><rect x="340" y="180" width="10" height="10" fill="rgb(242,242,242)"/><rect x="350" y="180" width="10" height="10" fill="rgb(222,222,222)"/><rect x="360" y="180" width="10" height="10" fill="rgb(222,222,222)"/><rect x="370" y="180" width="10" height="10" fill="rgb(168,168,168)"/><rect x="380" y="180" width="10" height="10" fill="rgb(196,196,196)"/><rect x="390" y="180" width="10" height="10" fill="rgb(222,222,222)"/><rect x="400" y="180" width="10" height="10" fill="rgb(222,222,222)"/><rect x="410" y="180" width="10" height="10" fill="rgb(222,222,222)"/><rect x="420" y="180" width="10" height="10" fill="rgb(222,222,222)"/><rect x="430" y="180" width="10" height="10" fill="rgb(222,222,222)"/><rect x="440" y="180" width="10" height="10" fill="rgb(168,168,168)"/><rect x="450" y="180" width="10" height="10" fill="rgb(97,97,97)"/><rect x="460" y="180" width="10" height="10" fill="rgb(97,97,97)"/><rect x="470" y="180" width="10" height="10" fill="rgb(71,71,71)"/><rect x="480" y="180" width="10" height="10" fill="rgb(43,43,43)"/><rect x="490" y="180" width="10" height="10" fill="rgb(43,43,43)"/><rect x="500" y="180" width="10" height="10" fill="rgb(71,71,71)"/><rect x="510" y="180" width="10" height="10" fill="rgb(97,97,97)"/><rect x="520" y="180" width="10" height="10" fill="rgb(222,222,222)"/><rect x="530" y="180" width="10" height="10" fill="rgb(196,196,196)"/><rect x="540" y="180" width="10" height="10" fill="rgb(222,222,222)"/><rect x="550" y="180" width="10" height="10" fill="rgb(222,222,222)"/><rect x="560" y="180" width="10" height="10" fill="rgb(196,196,196)"/><rect x="570" y="180" width="10" height="10" fill="rgb(196,196,196)"/><rect x="580" y="180" width="10" height="10" fill="rgb(168,168,168)"/><rect x="590" y="180" width="10" height="10" fill="rgb(168,168,168)"/><rect x="600" y="180" width="10" height="10" fill="rgb(196,196,196)"/><rect x="610" y="180" width="10" height="10" fill="rgb(222,222,222)"/><rect x="620" y="180" width="10" height="10" fill="rgb(222,222,222)"/><rect x="630" y="180" width="10" height="10" fill="rgb(222,222,222)"/><rect x="640" y="180" width="10" height="10" fill="rgb(196,196,196)"/><rect x="650" y="180" width="10" height="10" fill="rgb(133,133,133)"/><rect x="660" y="180" width="10" height="10" fill="rgb(196,196,196)"/><rect x="670" y="180" width="10" height="10" fill="rgb(196,196,196)"/><rect x="680" y="180" width="10" height="10" fill="rgb(196,196,196)"/><rect x="690" y="180" width="10" height="10" fill="rgb(196,196,196)"/><rect x="700" y="180" width="10" height="10" fill="rgb(196,196,196)"/><rect x="710" y="180" width="10" height="10" fill="rgb(222,222,222)"/><rect x="720" y="180" width="10" height="10" fill="rgb(222,222,222)"/><rect x="730" y="180" width="10" height="10" fill="rgb(196,196,196)"/><rect x="740" y="180" width="10" height="10" fill="rgb(196,196,196)"/><rect x="750" y="180" width="10" height="10" fill="rgb(196,196,196)"/><rect x="760" y="180" width="10" height="10" fill="rgb(196,196,196)"/><rect x="150" y="190" width="10" height="10" fill="rgb(222,222,222)"/><rect x="160" y="190" width="10" height="10" fill="rgb(222,222,222)"/><rect x="170" y="190" width="10" height="10" fill="rgb(222,222,222)"/><rect x="180" y="190" width="10" height="10" fill="rgb(242,242,242)"/><rect x="190" y="190" width="10" height="10" fill="rgb(242,242,242)"/><rect x="200" y="190" width="10" height="10" fill="rgb(222,222,222)"/><rect x="210" y="190" width="10" height="10" fill="rgb(222,222,222)"/><rect x="220" y="190" width="10" height="10" fill="rgb(222,222,222)"/><rect x="230" y="190" width="10" height="10" fill="rgb(222,222,222)"/><rect x="240" y="190" width="10" height="10" fill="rgb(242,242,242)"/><rect x="250" y="190" width="10" height="10" fill="rgb(242,242,242)"/><rect x="260" y="190" width="10" height="10" fill="rgb(242,242,242)"/><rect x="270" y="190" width="10" height="10" fill="rgb(242,242,242)"/><rect x="280" y="190" width="10" height="10" fill="rgb(242,242,242)"/><rect x="290" y="190" width="10" height="10" fill="rgb(222,222,222)"/><rect x="300" y="190" width="10" height="10" fill="rgb(222,222,222)"/><rect x="310" y="190" width="10" height="10" fill="rgb(242,242,242)"/><rect x="320" y="190" width="10" height="10" fill="rgb(242,242,242)"/><rect x="330" y="190" width="10" height="10" fill="rgb(242,242,242)"/><rect x="340" y="190" width="10" height="10" fill="rgb(242,242,242)"/><rect x="350" y="190" width="10" height="10" fill="rgb(222,222,222)"/><rect x="360" y="190" width="10" height="10" fill="rgb(222,222,222)"/><rect x="370" y="190" width="10" height="10" fill="rgb(168,168,168)"/><rect x="380" y="190" width="10" height="10" fill="rgb(168,168,168)"/><rect x="390" y="190" width="10" height="10" fill="rgb(222,222,222)"/><rect x="400" y="190" width="10" height="10" fill="rgb(222,222,222)"/><rect x="410" y="190" width="10" height="10" fill="rgb(222,222,222)"/><rect x="420" y="190" width="10" height="10" fill="rgb(222,222,222)"/><rect x="430" y="190" width="10" height="10" fill="rgb(196,196,196)"/><rect x="440" y="190" width="10" height="10" fill="rgb(168,168,168)"/><rect x="450" y="190" width="10" height="10" fill="rgb(133,133,133)"/><rect x="460" y="190" width="10" height="10" fill="rgb(71,71,71)"/><rect x="470" y="190" width="10" height="10" fill="rgb(43,43,43)"/><rect x="480" y="190" width="10" height="10" fill="rgb(43,43,43)"/><rect x="490" y="190" width="10" height="10" fill="rgb(20,20,20)"/><rect x="500" y="190" width="10" height="10" fill="rgb(43,43,43)"/><rect x="510" y="190" width="10" height="10" fill="rgb(71,71,71)"/><rect x="520" y="190" width="10" height="10" fill="rgb(168,168,168)"/><rect x="530" y="190" width="10" height="10" fill="rgb(97,97,97)"/><rect x="540" y="190" width="10" height="10" fill="rgb(97,97,97)"/><rect x="550" y="190" width="10" height="10" fill="rgb(133,133,133)"/><rect x="560" y="190" width="10" height="10" fill="rgb(133,133,133)"/><rect x="570" y="190" width="10" height="10" fill="rgb(168,168,168)"/><rect x="580" y="190" width="10" height="10" fill="rgb(196,196,196)"/><rect x="590" y="190" width="10" height="10" fill="rgb(196,196,196)"/><rect x="600" y="190" width="10" height="10" fill="rgb(196,196,196)"/><rect x="610" y="190" width="10" height="10" fill="rgb(196,196,196)"/><rect x="620" y="190" width="10" height="10" fill="rgb(196,196,196)"/><rect x="630" y="190" width="10" height="10" fill="rgb(222,222,222)"/><rect x="640" y="190" width="10" height="10" fill="rgb(196,196,196)"/><rect x="650" y="190" width="10" height="10" fill="rgb(133,133,133)"/><rect x="660" y="190" width="10" height="10" fill="rgb(196,196,196)"/><rect x="670" y="190" width="10" height="10" fill="rgb(196,196,196)"/><rect x="680" y="190" width="10" height="10" fill="rgb(222,222,222)"/><rect x="690" y="190" width="10" height="10" fill="rgb(222,222,222)"/><rect x="700" y="190" width="10" height="10" fill="rgb(222,222,222)"/><rect x="710" y="190" width="10" height="10" fill="rgb(222,222,222)"/><rect x="720" y="190" width="10" height="10" fill="rgb(222,222,222)"/><rect x="730" y="190" width="10" height="10" fill="rgb(196,196,196)"/><rect x="740" y="190" width="10" height="10" fill="rgb(196,196,196)"/><rect x="750" y="190" width="10" height="10" fill="rgb(196,196,196)"/><rect x="760" y="190" width="10" height="10" fill="rgb(196,196,196)"/><rect x="150" y="200" width="10" height="10" fill="rgb(222,222,222)"/><rect x="160" y="200" width="10" height="10" fill="rgb(222,222,222)"/><rect x="170" y="200" width="10" height="10" fill="rgb(222,222,222)"/><rect x="180" y="200" width="10" height="10" fill="rgb(242,242,242)"/><rect x="190" y="200" width="10" height="10" fill="rgb(242,242,242)"/><rect x="200" y="200" width="10" height="10" fill="rgb(222,222,222)"/><rect x="210" y="200" width="10" height="10" fill="rgb(222,222,222)"/><rect x="220" y="200" width="10" height="10" fill="rgb(222,222,222)"/><rect x="230" y="200" width="10" height="10" fill="rgb(222,222,222)"/><rect x="240" y="200" width="10" height="10" fill="rgb(242,242,242)"/><rect x="250" y="200" width="10" height="10" fill="rgb(242,242,242)"/><rect x="260" y="200" width="10" height="10" fill="rgb(242,242,242)"/><rect x="270" y="200" width="10" height="10" fill="rgb(242,242,242)"/><rect x="280" y="200" width="10" height="10" fill="rgb(242,242,242)"/><rect x="290" y="200" width="10" height="10" fill="rgb(222,222,222)"/><rect x="300" y="200" width="10" height="10" fill="rgb(222,222,222)"/><rect x="310" y="200" width="10" height="10" fill="rgb(222,222,222)"/><rect x="320" y="200" width="10" height="10" fill="rgb(222,222,222)"/><rect x="330" y="200" width="10" height="10" fill="rgb(222,222,222)"/><rect x="340" y="200" width="10" height="10" fill="rgb(196,196,196)"/><rect x="350" y="200" width="10" height="10" fill="rgb(196,196,196)"/><rect x="360" y="200" width="10" height="10" fill="rgb(222,222,222)"/><rect x="370" y="200" width="10" height="10" fill="rgb(168,168,168)"/><rect x="380" y="200" width="10" height="10" fill="rgb(168,168,168)"/><rect x="390" y="200" width="10" height="10" fill="rgb(168,168,168)"/><rect x="400" y="200" width="10" height="10" fill="rgb(222,222,222)"/><rect x="410" y="200" width="10" height="10" fill="rgb(222,222,222)"/><rect x="420" y="200" width="10" height="10" fill="rgb(222,222,222)"/><rect x="430" y="200" width="10" height="10" fill="rgb(222,222,222)"/><rect x="440" y="200" width="10" height="10" fill="rgb(196,196,196)"/><rect x="450" y="200" width="10" height="10" fill="rgb(168,168,168)"/><rect x="460" y="200" width="10" height="10" fill="rgb(97,97,97)"/><rect x="470" y="200" width="10" height="10" fill="rgb(97,97,97)"/><rect x="480" y="200" width="10" height="10" fill="rgb(71,71,71)"/><rect x="490" y="200" width="10" height="10" fill="rgb(43,43,43)"/><rect x="500" y="200" width="10" height="10" fill="rgb(43,43,43)"/><rect x="510" y="200" width="10" height="10" fill="rgb(97,97,97)"/><rect x="520" y="200" width="10" height="10" fill="rgb(97,97,97)"/><rect x="530" y="200" width="10" height="10" fill="rgb(71,71,71)"/><rect x="540" y="200" width="10" height="10" fill="rgb(71,71,71)"/><rect x="550" y="200" width="10" height="10" fill="rgb(97,97,97)"/><rect x="560" y="200" width="10" height="10" fill="rgb(43,43,43)"/><rect x="570" y="200" width="10" height="10" fill="rgb(97,97,97)"/><rect x="580" y="200" width="10" height="10" fill="rgb(133,133,133)"/><rect x="590" y="200" width="10" height="10" fill="rgb(168,168,168)"/><rect x="600" y="200" width="10" height="10" fill="rgb(168,168,168)"/><rect x="610" y="200" width="10" height="10" fill="rgb(196,196,196)"/><rect x="620" y="200" width="10" height="10" fill="rgb(196,196,196)"/><rect x="630" y="200" width="10" height="10" fill="rgb(222,222,222)"/><rect x="640" y="200" width="10" height="10" fill="rgb(196,196,196)"/><rect x="650" y="200" width="10" height="10" fill="rgb(222,222,222)"/><rect x="660" y="200" width="10" height="10" fill="rgb(222,222,222)"/><rect x="670" y="200" width="10" height="10" fill="rgb(222,222,222)"/><rect x="680" y="200" width="10" height="10" fill="rgb(222,222,222)"/><rect x="690" y="200" width="10" height="10" fill="rgb(222,222,222)"/><rect x="700" y="200" width="10" height="10" fill="rgb(222,222,222)"/><rect x="710" y="200" width="10" height="10" fill="rgb(222,222,222)"/><rect x="720" y="200" width="10" height="10" fill="rgb(222,222,222)"/><rect x="730" y="200" width="10" height="10" fill="rgb(196,196,196)"/><rect x="740" y="200" width="10" height="10" fill="rgb(196,196,196)"/><rect x="750" y="200" width="10" height="10" fill="rgb(196,196,196)"/><rect x="760" y="200" width="10" height="10" fill="rgb(196,196,196)"/><rect x="150" y="210" width="10" height="10" fill="rgb(222,222,222)"/><rect x="160" y="210" width="10" height="10" fill="rgb(222,222,222)"/><rect x="170" y="210" width="10" height="10" fill="rgb(222,222,222)"/><rect x="180" y="210" width="10" height="10" fill="rgb(242,242,242)"/><rect x="190" y="210" width="10" height="10" fill="rgb(242,242,242)"/><rect x="200" y="210" width="10" height="10" fill="rgb(222,222,222)"/><rect x="210" y="210" width="10" height="10" fill="rgb(222,222,222)"/><rect x="220" y="210" width="10" height="10" fill="rgb(222,222,222)"/><rect x="230" y="210" width="10" height="10" fill="rgb(222,222,222)"/><rect x="240" y="210" width="10" height="10" fill="rgb(242,242,242)"/><rect x="250" y="210" width="10" height="10" fill="rgb(242,242,242)"/><rect x="260" y="210" width="10" height="10" fill="rgb(242,242,242)"/><rect x="270" y="210" width="10" height="10" fill="rgb(242,242,242)"/><rect x="280" y="210" width="10" height="10" fill="rgb(242,242,242)"/><rect x="290" y="210" width="10" height="10" fill="rgb(222,222,222)"/><rect x="300" y="210" width="10" height="10" fill="rgb(222,222,222)"/><rect x="310" y="210" width="10" height="10" fill="rgb(196,196,196)"/><rect x="320" y="210" width="10" height="10" fill="rgb(222,222,222)"/><rect x="330" y="210" width="10" height="10" fill="rgb(222,222,222)"/><rect x="340" y="210" width="10" height="10" fill="rgb(196,196,196)"/><rect x="350" y="210" width="10" height="10" fill="rgb(222,222,222)"/><rect x="360" y="210" width="10" height="10" fill="rgb(222,222,222)"/><rect x="370" y="210" width="10" height="10" fill="rgb(222,222,222)"/><rect x="380" y="210" width="10" height="10" fill="rgb(196,196,196)"/><rect x="390" y="210" width="10" height="10" fill="rgb(168,168,168)"/><rect x="400" y="210" width="10" height="10" fill="rgb(222,222,222)"/><rect x="410" y="210" width="10" height="10" fill="rgb(222,222,222)"/><rect x="420" y="210" width="10" height="10" fill="rgb(222,222,222)"/><rect x="430" y="210" width="10" height="10" fill="rgb(222,222,222)"/><rect x="440" y="210" width="10" height="10" fill="rgb(196,196,196)"/><rect x="450" y="210" width="10" height="10" fill="rgb(196,196,196)"/><rect x="460" y="210" width="10" height="10" fill="rgb(196,196,196)"/><rect x="470" y="210" width="10" height="10" fill="rgb(133,133,133)"/><rect x="480" y="210" width="10" height="10" fill="rgb(97,97,97)"/><rect x="490" y="210" width="10" height="10" fill="rgb(71,71,71)"/><rect x="500" y="210" width="10" height="10" fill="rgb(97,97,97)"/><rect x="510" y="210" width="10" height="10" fill="rgb(133,133,133)"/><rect x="520" y="210" width="10" height="10" fill="rgb(133,133,133)"/><rect x="530" y="210" width="10" height="10" fill="rgb(196,196,196)"/><rect x="540" y="210" width="10" height="10" fill="rgb(196,196,196)"/><rect x="550" y="210" width="10" height="10" fill="rgb(133,133,133)"/><rect x="560" y="210" width="10" height="10" fill="rgb(20,20,20)"/><rect x="570" y="210" width="10" height="10" fill="rgb(97,97,97)"/><rect x="580" y="210" width="10" height="10" fill="rgb(97,97,97)"/><rect x="590" y="210" width="10" height="10" fill="rgb(97,97,97)"/><rect x="600" y="210" width="10" height="10" fill="rgb(133,133,133)"/><rect x="610" y="210" width="10" height="10" fill="rgb(168,168,168)"/><rect x="620" y="210" width="10" height="10" fill="rgb(196,196,196)"/><rect x="630" y="210" width="10" height="10" fill="rgb(222,222,222)"/><rect x="640" y="210" width="10" height="10" fill="rgb(222,222,222)"/><rect x="650" y="210" width="10" height="10" fill="rgb(222,222,222)"/><rect x="660" y="210" width="10" height="10" fill="rgb(222,222,222)"/><rect x="670" y="210" width="10" height="10" fill="rgb(222,222,222)"/><rect x="680" y="210" width="10" height="10" fill="rgb(222,222,222)"/><rect x="690" y="210" width="10" height="10" fill="rgb(222,222,222)"/><rect x="700" y="210" width="10" height="10" fill="rgb(196,196,196)"/><rect x="710" y="210" width="10" height="10" fill="rgb(222,222,222)"/><rect x="720" y="210" width="10" height="10" fill="rgb(222,222,222)"/><rect x="730" y="210" width="10" height="10" fill="rgb(196,196,196)"/><rect x="740" y="210" width="10" height="10" fill="rgb(196,196,196)"/><rect x="750" y="210" width="10" height="10" fill="rgb(196,196,196)"/><rect x="760" y="210" width="10" height="10" fill="rgb(196,196,196)"/><rect x="150" y="220" width="10" height="10" fill="rgb(222,222,222)"/><rect x="160" y="220" width="10" height="10" fill="rgb(222,222,222)"/><rect x="170" y="220" width="10" height="10" fill="rgb(222,222,222)"/><rect x="180" y="220" width="10" height="10" fill="rgb(242,242,242)"/><rect x="190" y="220" width="10" height="10" fill="rgb(242,242,242)"/><rect x="200" y="220" width="10" height="10" fill="rgb(222,222,222)"/><rect x="210" y="220" width="10" height="10" fill="rgb(222,222,222)"/><rect x="220" y="220" width="10" height="10" fill="rgb(222,222,222)"/><rect x="230" y="220" width="10" height="10" fill="rgb(222,222,222)"/><rect x="240" y="220" width="10" height="10" fill="rgb(222,222,222)"/><rect x="250" y="220" width="10" height="10" fill="rgb(242,242,242)"/><rect x="260" y="220" width="10" height="10" fill="rgb(242,242,242)"/><rect x="270" y="220" width="10" height="10" fill="rgb(242,242,242)"/><rect x="280" y="220" width="10" height="10" fill="rgb(242,242,242)"/><rect x="290" y="220" width="10" height="10" fill="rgb(242,242,242)"/><rect x="300" y="220" width="10" height="10" fill="rgb(222,222,222)"/><rect x="310" y="220" width="10" height="10" fill="rgb(196,196,196)"/><rect x="320" y="220" width="10" height="10" fill="rgb(168,168,168)"/><rect x="330" y="220" width="10" height="10" fill="rgb(168,168,168)"/><rect x="340" y="220" width="10" height="10" fill="rgb(196,196,196)"/><rect x="350" y="220" width="10" height="10" fill="rgb(222,222,222)"/><rect x="360" y="220" width="10" height="10" fill="rgb(222,222,222)"/><rect x="370" y="220" width="10" height="10" fill="rgb(196,196,196)"/><rect x="380" y="220" width="10" height="10" fill="rgb(222,222,222)"/><rect x="390" y="220" width="10" height="10" fill="rgb(196,196,196)"/><rect x="400" y="220" width="10" height="10" fill="rgb(196,196,196)"/><rect x="410" y="220" width="10" height="10" fill="rgb(222,222,222)"/><rect x="420" y="220" width="10" height="10" fill="rgb(222,222,222)"/><rect x="430" y="220" width="10" height="10" fill="rgb(222,222,222)"/><rect x="440" y="220" width="10" height="10" fill="rgb(196,196,196)"/><rect x="450" y="220" width="10" height="10" fill="rgb(222,222,222)"/><rect x="460" y="220" width="10" height="10" fill="rgb(196,196,196)"/><rect x="470" y="220" width="10" height="10" fill="rgb(196,196,196)"/><rect x="480" y="220" width="10" height="10" fill="rgb(168,168,168)"/><rect x="490" y="220" width="10" height="10" fill="rgb(196,196,196)"/><rect x="500" y="220" width="10" height="10" fill="rgb(168,168,168)"/><rect x="510" y="220" width="10" height="10" fill="rgb(97,97,97)"/><rect x="520" y="220" width="10" height="10" fill="rgb(133,133,133)"/><rect x="530" y="220" width="10" height="10" fill="rgb(97,97,97)"/><rect x="540" y="220" width="10" height="10" fill="rgb(71,71,71)"/><rect x="550" y="220" width="10" height="10" fill="rgb(97,97,97)"/><rect x="560" y="220" width="10" height="10" fill="rgb(43,43,43)"/><rect x="570" y="220" width="10" height="10" fill="rgb(71,71,71)"/><rect x="580" y="220" width="10" height="10" fill="rgb(97,97,97)"/><rect x="590" y="220" width="10" height="10" fill="rgb(97,97,97)"/><rect x="600" y="220" width="10" height="10" fill="rgb(133,133,133)"/><rect x="610" y="220" width="10" height="10" fill="rgb(168,168,168)"/><rect x="620" y="220" width="10" height="10" fill="rgb(196,196,196)"/><rect x="630" y="220" width="10" height="10" fill="rgb(222,222,222)"/><rect x="640" y="220" width="10" height="10" fill="rgb(196,196,196)"/><rect x="650" y="220" width="10" height="10" fill="rgb(222,222,222)"/><rect x="660" y="220" width="10" height="10" fill="rgb(242,242,242)"/><rect x="670" y="220" width="10" height="10" fill="rgb(242,242,242)"/><rect x="680" y="220" width="10" height="10" fill="rgb(222,222,222)"/><rect x="690" y="220" width="10" height="10" fill="rgb(222,222,222)"/><rect x="700" y="220" width="10" height="10" fill="rgb(222,222,222)"/><rect x="710" y="220" width="10" height="10" fill="rgb(196,196,196)"/><rect x="720" y="220" width="10" height="10" fill="rgb(222,222,222)"/><rect x="730" y="220" width="10" height="10" fill="rgb(196,196,196)"/><rect x="740" y="220" width="10" height="10" fill="rgb(196,196,196)"/><rect x="750" y="220" width="10" height="10" fill="rgb(196,196,196)"/><rect x="760" y="220" width="10" height="10" fill="rgb(196,196,196)"/><rect x="150" y="230" width="10" height="10" fill="rgb(222,222,222)"/><rect x="160" y="230" width="10" height="10" fill="rgb(222,222,222)"/><rect x="170" y="230" width="10" height="10" fill="rgb(222,222,222)"/><rect x="180" y="230" width="10" height="10" fill="rgb(242,242,242)"/><rect x="190" y="230" width="10" height="10" fill="rgb(242,242,242)"/><rect x="200" y="230" width="10" height="10" fill="rgb(222,222,222)"/><rect x="210" y="230" width="10" height="10" fill="rgb(222,222,222)"/><rect x="220" y="230" width="10" height="10" fill="rgb(222,222,222)"/><rect x="230" y="230" width="10" height="10" fill="rgb(222,222,222)"/><rect x="240" y="230" width="10" height="10" fill="rgb(222,222,222)"/><rect x="250" y="230" width="10" height="10" fill="rgb(222,222,222)"/><rect x="260" y="230" width="10" height="10" fill="rgb(196,196,196)"/><rect x="270" y="230" width="10" height="10" fill="rgb(242,242,242)"/><rect x="280" y="230" width="10" height="10" fill="rgb(242,242,242)"/><rect x="290" y="230" width="10" height="10" fill="rgb(242,242,242)"/><rect x="300" y="230" width="10" height="10" fill="rgb(222,222,222)"/><rect x="310" y="230" width="10" height="10" fill="rgb(168,168,168)"/><rect x="320" y="230" width="10" height="10" fill="rgb(133,133,133)"/><rect x="330" y="230" width="10" height="10" fill="rgb(133,133,133)"/><rect x="340" y="230" width="10" height="10" fill="rgb(196,196,196)"/><rect x="350" y="230" width="10" height="10" fill="rgb(222,222,222)"/><rect x="360" y="230" width="10" height="10" fill="rgb(222,222,222)"/><rect x="370" y="230" width="10" height="10" fill="rgb(222,222,222)"/><rect x="380" y="230" width="10" height="10" fill="rgb(168,168,168)"/><rect x="390" y="230" width="10" height="10" fill="rgb(222,222,222)"/><rect x="400" y="230" width="10" height="10" fill="rgb(222,222,222)"/><rect x="410" y="230" width="10" height="10" fill="rgb(196,196,196)"/><rect x="420" y="230" width="10" height="10" fill="rgb(168,168,168)"/><rect x="430" y="230" width="10" height="10" fill="rgb(168,168,168)"/><rect x="440" y="230" width="10" height="10" fill="rgb(168,168,168)"/><rect x="450" y="230" width="10" height="10" fill="rgb(168,168,168)"/><rect x="460" y="230" width="10" height="10" fill="rgb(168,168,168)"/><rect x="470" y="230" width="10" height="10" fill="rgb(196,196,196)"/><rect x="480" y="230" width="10" height="10" fill="rgb(196,196,196)"/><rect x="490" y="230" width="10" height="10" fill="rgb(222,222,222)"/><rect x="500" y="230" width="10" height="10" fill="rgb(168,168,168)"/><rect x="510" y="230" width="10" height="10" fill="rgb(168,168,168)"/><rect x="520" y="230" width="10" height="10" fill="rgb(97,97,97)"/><rect x="530" y="230" width="10" height="10" fill="rgb(71,71,71)"/><rect x="540" y="230" width="10" height="10" fill="rgb(71,71,71)"/><rect x="550" y="230" width="10" height="10" fill="rgb(168,168,168)"/><rect x="560" y="230" width="10" height="10" fill="rgb(71,71,71)"/><rect x="570" y="230" width="10" height="10" fill="rgb(97,97,97)"/><rect x="580" y="230" width="10" height="10" fill="rgb(71,71,71)"/><rect x="590" y="230" width="10" height="10" fill="rgb(97,97,97)"/><rect x="600" y="230" width="10" height="10" fill="rgb(133,133,133)"/><rect x="610" y="230" width="10" height="10" fill="rgb(196,196,196)"/><rect x="620" y="230" width="10" height="10" fill="rgb(222,222,222)"/><rect x="630" y="230" width="10" height="10" fill="rgb(242,242,242)"/><rect x="640" y="230" width="10" height="10" fill="rgb(222,222,222)"/><rect x="650" y="230" width="10" height="10" fill="rgb(242,242,242)"/><rect x="660" y="230" width="10" height="10" fill="rgb(242,242,242)"/><rect x="670" y="230" width="10" height="10" fill="rgb(242,242,242)"/><rect x="680" y="230" width="10" height="10" fill="rgb(222,222,222)"/><rect x="690" y="230" width="10" height="10" fill="rgb(222,222,222)"/><rect x="700" y="230" width="10" height="10" fill="rgb(222,222,222)"/><rect x="710" y="230" width="10" height="10" fill="rgb(222,222,222)"/><rect x="720" y="230" width="10" height="10" fill="rgb(196,196,196)"/><rect x="730" y="230" width="10" height="10" fill="rgb(196,196,196)"/><rect x="740" y="230" width="10" height="10" fill="rgb(196,196,196)"/><rect x="750" y="230" width="10" height="10" fill="rgb(196,196,196)"/><rect x="760" y="230" width="10" height="10" fill="rgb(196,196,196)"/><rect x="150" y="240" width="10" height="10" fill="rgb(222,222,222)"/><rect x="160" y="240" width="10" height="10" fill="rgb(222,222,222)"/><rect x="170" y="240" width="10" height="10" fill="rgb(222,222,222)"/><rect x="180" y="240" width="10" height="10" fill="rgb(242,242,242)"/><rect x="190" y="240" width="10" height="10" fill="rgb(242,242,242)"/><rect x="200" y="240" width="10" height="10" fill="rgb(222,222,222)"/><rect x="210" y="240" width="10" height="10" fill="rgb(222,222,222)"/><rect x="220" y="240" width="10" height="10" fill="rgb(222,222,222)"/><rect x="230" y="240" width="10" height="10" fill="rgb(222,222,222)"/><rect x="240" y="240" width="10" height="10" fill="rgb(222,222,222)"/><rect x="250" y="240" width="10" height="10" fill="rgb(222,222,222)"/><rect x="260" y="240" width="10" height="10" fill="rgb(196,196,196)"/><rect x="270" y="240" width="10" height="10" fill="rgb(222,222,222)"/><rect x="280" y="240" width="10" height="10" fill="rgb(196,196,196)"/><rect x="290" y="240" width="10" height="10" fill="rgb(242,242,242)"/><rect x="300" y="240" width="10" height="10" fill="rgb(222,222,222)"/><rect x="310" y="240" width="10" height="10" fill="rgb(168,168,168)"/><rect x="320" y="240" width="10" height="10" fill="rgb(133,133,133)"/><rect x="330" y="240" width="10" height="10" fill="rgb(133,133,133)"/><rect x="340" y="240" width="10" height="10" fill="rgb(242,242,242)"/><rect x="350" y="240" width="10" height="10" fill="rgb(242,242,242)"/><rect x="360" y="240" width="10" height="10" fill="rgb(222,222,222)"/><rect x="370" y="240" width="10" height="10" fill="rgb(242,242,242)"/><rect x="380" y="240" width="10" height="10" fill="rgb(242,242,242)"/><rect x="390" y="240" width="10" height="10" fill="rgb(242,242,242)"/><rect x="400" y="240" width="10" height="10" fill="rgb(242,242,242)"/><rect x="410" y="240" width="10" height="10" fill="rgb(222,222,222)"/><rect x="420" y="240" width="10" height="10" fill="rgb(222,222,222)"/><rect x="430" y="240" width="10" height="10" fill="rgb(222,222,222)"/><rect x="440" y="240" width="10" height="10" fill="rgb(222,222,222)"/><rect x="450" y="240" width="10" height="10" fill="rgb(196,196,196)"/><rect x="460" y="240" width="10" height="10" fill="rgb(196,196,196)"/><rect x="470" y="240" width="10" height="10" fill="rgb(222,222,222)"/><rect x="480" y="240" width="10" height="10" fill="rgb(222,222,222)"/><rect x="490" y="240" width="10" height="10" fill="rgb(222,222,222)"/><rect x="500" y="240" width="10" height="10" fill="rgb(168,168,168)"/><rect x="510" y="240" width="10" height="10" fill="rgb(196,196,196)"/><rect x="520" y="240" width="10" height="10" fill="rgb(133,133,133)"/><rect x="530" y="240" width="10" height="10" fill="rgb(71,71,71)"/><rect x="540" y="240" width="10" height="10" fill="rgb(97,97,97)"/><rect x="550" y="240" width="10" height="10" fill="rgb(196,196,196)"/><rect x="560" y="240" width="10" height="10" fill="rgb(97,97,97)"/><rect x="570" y="240" width="10" height="10" fill="rgb(97,97,97)"/><rect x="580" y="240" width="10" height="10" fill="rgb(97,97,97)"/><rect x="590" y="240" width="10" height="10" fill="rgb(168,168,168)"/><rect x="600" y="240" width="10" height="10" fill="rgb(196,196,196)"/><rect x="610" y="240" width="10" height="10" fill="rgb(222,222,222)"/><rect x="620" y="240" width="10" height="10" fill="rgb(222,222,222)"/><rect x="630" y="240" width="10" height="10" fill="rgb(242,242,242)"/><rect x="640" y="240" width="10" height="10" fill="rgb(196,196,196)"/><rect x="650" y="240" width="10" height="10" fill="rgb(222,222,222)"/><rect x="660" y="240" width="10" height="10" fill="rgb(222,222,222)"/><rect x="670" y="240" width="10" height="10" fill="rgb(222,222,222)"/><rect x="680" y="240" width="10" height="10" fill="rgb(222,222,222)"/><rect x="690" y="240" width="10" height="10" fill="rgb(222,222,222)"/><rect x="700" y="240" width="10" height="10" fill="rgb(222,222,222)"/><rect x="710" y="240" width="10" height="10" fill="rgb(222,222,222)"/><rect x="720" y="240" width="10" height="10" fill="rgb(196,196,196)"/><rect x="730" y="240" width="10" height="10" fill="rgb(222,222,222)"/><rect x="740" y="240" width="10" height="10" fill="rgb(222,222,222)"/><rect x="750" y="240" width="10" height="10" fill="rgb(222,222,222)"/><rect x="760" y="240" width="10" height="10" fill="rgb(222,222,222)"/><rect x="150" y="250" width="10" height="10" fill="rgb(133,133,133)"/><rect x="160" y="250" width="10" height="10" fill="rgb(133,133,133)"/><rect x="170" y="250" width="10" height="10" fill="rgb(97,97,97)"/><rect x="180" y="250" width="10" height="10" fill="rgb(168,168,168)"/><rect x="190" y="250" width="10" height="10" fill="rgb(222,222,222)"/><rect x="200" y="250" width="10" height="10" fill="rgb(242,242,242)"/><rect x="210" y="250" width="10" height="10" fill="rgb(222,222,222)"/><rect x="220" y="250" width="10" height="10" fill="rgb(222,222,222)"/><rect x="230" y="250" width="10" height="10" fill="rgb(222,222,222)"/><rect x="240" y="250" width="10" height="10" fill="rgb(222,222,222)"/><rect x="250" y="250" width="10" height="10" fill="rgb(222,222,222)"/><rect x="260" y="250" width="10" height="10" fill="rgb(196,196,196)"/><rect x="270" y="250" width="10" height="10" fill="rgb(222,222,222)"/><rect x="280" y="250" width="10" height="10" fill="rgb(196,196,196)"/><rect x="290" y="250" width="10" height="10" fill="rgb(222,222,222)"/><rect x="300" y="250" width="10" height="10" fill="rgb(222,222,222)"/><rect x="310" y="250" width="10" height="10" fill="rgb(222,222,222)"/><rect x="320" y="250" width="10" height="10" fill="rgb(222,222,222)"/><rect x="330" y="250" width="10" height="10" fill="rgb(242,242,242)"/><rect x="340" y="250" width="10" height="10" fill="rgb(242,242,242)"/><rect x="350" y="250" width="10" height="10" fill="rgb(242,242,242)"/><rect x="360" y="250" width="10" height="10" fill="rgb(242,242,242)"/><rect x="370" y="250" width="10" height="10" fill="rgb(242,242,242)"/><rect x="380" y="250" width="10" height="10" fill="rgb(242,242,242)"/><rect x="390" y="250" width="10" height="10" fill="rgb(242,242,242)"/><rect x="400" y="250" width="10" height="10" fill="rgb(242,242,242)"/><rect x="410" y="250" width="10" height="10" fill="rgb(242,242,242)"/><rect x="420" y="250" width="10" height="10" fill="rgb(242,242,242)"/><rect x="430" y="250" width="10" height="10" fill="rgb(242,242,242)"/><rect x="440" y="250" width="10" height="10" fill="rgb(242,242,242)"/><rect x="450" y="250" width="10" height="10" fill="rgb(222,222,222)"/><rect x="460" y="250" width="10" height="10" fill="rgb(222,222,222)"/><rect x="470" y="250" width="10" height="10" fill="rgb(196,196,196)"/><rect x="480" y="250" width="10" height="10" fill="rgb(168,168,168)"/><rect x="490" y="250" width="10" height="10" fill="rgb(222,222,222)"/><rect x="500" y="250" width="10" height="10" fill="rgb(196,196,196)"/><rect x="510" y="250" width="10" height="10" fill="rgb(168,168,168)"/><rect x="520" y="250" width="10" height="10" fill="rgb(222,222,222)"/><rect x="530" y="250" width="10" height="10" fill="rgb(168,168,168)"/><rect x="540" y="250" width="10" height="10" fill="rgb(196,196,196)"/><rect x="550" y="250" width="10" height="10" fill="rgb(222,222,222)"/><rect x="560" y="250" width="10" height="10" fill="rgb(168,168,168)"/><rect x="570" y="250" width="10" height="10" fill="rgb(97,97,97)"/><rect x="580" y="250" width="10" height="10" fill="rgb(97,97,97)"/><rect x="590" y="250" width="10" height="10" fill="rgb(168,168,168)"/><rect x="600" y="250" width="10" height="10" fill="rgb(196,196,196)"/><rect x="610" y="250" width="10" height="10" fill="rgb(222,222,222)"/><rect x="620" y="250" width="10" height="10" fill="rgb(222,222,222)"/><rect x="630" y="250" width="10" height="10" fill="rgb(222,222,222)"/><rect x="640" y="250" width="10" height="10" fill="rgb(196,196,196)"/><rect x="650" y="250" width="10" height="10" fill="rgb(222,222,222)"/><rect x="660" y="250" width="10" height="10" fill="rgb(222,222,222)"/><rect x="670" y="250" width="10" height="10" fill="rgb(222,222,222)"/><rect x="680" y="250" width="10" height="10" fill="rgb(222,222,222)"/><rect x="690" y="250" width="10" height="10" fill="rgb(222,222,222)"/><rect x="700" y="250" width="10" height="10" fill="rgb(222,222,222)"/><rect x="710" y="250" width="10" height="10" fill="rgb(222,222,222)"/><rect x="720" y="250" width="10" height="10" fill="rgb(222,222,222)"/><rect x="730" y="250" width="10" height="10" fill="rgb(222,222,222)"/><rect x="740" y="250" width="10" height="10" fill="rgb(222,222,222)"/><rect x="750" y="250" width="10" height="10" fill="rgb(222,222,222)"/><rect x="760" y="250" width="10" height="10" fill="rgb(222,222,222)"/><rect x="150" y="260" width="10" height="10" fill="rgb(133,133,133)"/><rect x="160" y="260" width="10" height="10" fill="rgb(133,133,133)"/><rect x="170" y="260" width="10" height="10" fill="rgb(97,97,97)"/><rect x="180" y="260" width="10" height="10" fill="rgb(97,97,97)"/><rect x="190" y="260" width="10" height="10" fill="rgb(97,97,97)"/><rect x="200" y="260" width="10" height="10" fill="rgb(71,71,71)"/><rect x="210" y="260" width="10" height="10" fill="rgb(97,97,97)"/><rect x="220" y="260" width="10" height="10" fill="rgb(133,133,133)"/><rect x="230" y="260" width="10" height="10" fill="rgb(168,168,168)"/><rect x="240" y="260" width="10" height="10" fill="rgb(196,196,196)"/><rect x="250" y="260" width="10" height="10" fill="rgb(222,222,222)"/><rect x="260" y="260" width="10" height="10" fill="rgb(196,196,196)"/><rect x="270" y="260" width="10" height="10" fill="rgb(222,222,222)"/><rect x="280" y="260" width="10" height="10" fill="rgb(196,196,196)"/><rect x="290" y="260" width="10" height="10" fill="rgb(222,222,222)"/><rect x="300" y="260" width="10" height="10" fill="rgb(222,222,222)"/><rect x="310" y="260" width="10" height="10" fill="rgb(222,222,222)"/><rect x="320" y="260" width="10" height="10" fill="rgb(222,222,222)"/><rect x="330" y="260" width="10" height="10" fill="rgb(222,222,222)"/><rect x="340" y="260" width="10" height="10" fill="rgb(242,242,242)"/><rect x="350" y="260" width="10" height="10" fill="rgb(222,222,222)"/><rect x="360" y="260" width="10" height="10" fill="rgb(133,133,133)"/><rect x="370" y="260" width="10" height="10" fill="rgb(133,133,133)"/><rect x="380" y="260" width="10" height="10" fill="rgb(168,168,168)"/><rect x="390" y="260" width="10" height="10" fill="rgb(222,222,222)"/><rect x="400" y="260" width="10" height="10" fill="rgb(242,242,242)"/><rect x="410" y="260" width="10" height="10" fill="rgb(242,242,242)"/><rect x="420" y="260" width="10" height="10" fill="rgb(242,242,242)"/><rect x="430" y="260" width="10" height="10" fill="rgb(242,242,242)"/><rect x="440" y="260" width="10" height="10" fill="rgb(242,242,242)"/><rect x="450" y="260" width="10" height="10" fill="rgb(242,242,242)"/><rect x="460" y="260" width="10" height="10" fill="rgb(222,222,222)"/><rect x="470" y="260" width="10" height="10" fill="rgb(242,242,242)"/><rect x="480" y="260" width="10" height="10" fill="rgb(222,222,222)"/><rect x="490" y="260" width="10" height="10" fill="rgb(242,242,242)"/><rect x="500" y="260" width="10" height="10" fill="rgb(222,222,222)"/><rect x="510" y="260" width="10" height="10" fill="rgb(222,222,222)"/><rect x="520" y="260" width="10" height="10" fill="rgb(242,242,242)"/><rect x="530" y="260" width="10" height="10" fill="rgb(168,168,168)"/><rect x="540" y="260" width="10" height="10" fill="rgb(222,222,222)"/><rect x="550" y="260" width="10" height="10" fill="rgb(168,168,168)"/><rect x="560" y="260" width="10" height="10" fill="rgb(196,196,196)"/><rect x="570" y="260" width="10" height="10" fill="rgb(43,43,43)"/><rect x="580" y="260" width="10" height="10" fill="rgb(133,133,133)"/><rect x="590" y="260" width="10" height="10" fill="rgb(168,168,168)"/><rect x="600" y="260" width="10" height="10" fill="rgb(196,196,196)"/><rect x="610" y="260" width="10" height="10" fill="rgb(222,222,222)"/><rect x="620" y="260" width="10" height="10" fill="rgb(222,222,222)"/><rect x="630" y="260" width="10" height="10" fill="rgb(222,222,222)"/><rect x="640" y="260" width="10" height="10" fill="rgb(196,196,196)"/><rect x="650" y="260" width="10" height="10" fill="rgb(196,196,196)"/><rect x="660" y="260" width="10" height="10" fill="rgb(222,222,222)"/><rect x="670" y="260" width="10" height="10" fill="rgb(222,222,222)"/><rect x="680" y="260" width="10" height="10" fill="rgb(222,222,222)"/><rect x="690" y="260" width="10" height="10" fill="rgb(222,222,222)"/><rect x="700" y="260" width="10" height="10" fill="rgb(222,222,222)"/><rect x="710" y="260" width="10" height="10" fill="rgb(222,222,222)"/><rect x="720" y="260" width="10" height="10" fill="rgb(222,222,222)"/><rect x="730" y="260" width="10" height="10" fill="rgb(222,222,222)"/><rect x="740" y="260" width="10" height="10" fill="rgb(222,222,222)"/><rect x="750" y="260" width="10" height="10" fill="rgb(222,222,222)"/><rect x="760" y="260" width="10" height="10" fill="rgb(222,222,222)"/><rect x="150" y="270" width="10" height="10" fill="rgb(133,133,133)"/><rect x="160" y="270" width="10" height="10" fill="rgb(133,133,133)"/><rect x="170" y="270" width="10" height="10" fill="rgb(97,97,97)"/><rect x="180" y="270" width="10" height="10" fill="rgb(71,71,71)"/><rect x="190" y="270" width="10" height="10" fill="rgb(71,71,71)"/><rect x="200" y="270" width="10" height="10" fill="rgb(43,43,43)"/><rect x="210" y="270" width="10" height="10" fill="rgb(71,71,71)"/><rect x="220" y="270" width="10" height="10" fill="rgb(71,71,71)"/><rect x="230" y="270" width="10" height="10" fill="rgb(97,97,97)"/><rect x="240" y="270" width="10" height="10" fill="rgb(168,168,168)"/><rect x="250" y="270" width="10" height="10" fill="rgb(133,133,133)"/><rect x="260" y="270" width="10" height="10" fill="rgb(97,97,97)"/><rect x="270" y="270" width="10" height="10" fill="rgb(168,168,168)"/><rect x="280" y="270" width="10" height="10" fill="rgb(97,97,97)"/><rect x="290" y="270" width="10" height="10" fill="rgb(43,43,43)"/><rect x="300" y="270" width="10" height="10" fill="rgb(133,133,133)"/><rect x="310" y="270" width="10" height="10" fill="rgb(168,168,168)"/><rect x="320" y="270" width="10" height="10" fill="rgb(43,43,43)"/><rect x="330" y="270" width="10" height="10" fill="rgb(71,71,71)"/><rect x="340" y="270" width="10" height="10" fill="rgb(97,97,97)"/><rect x="350" y="270" width="10" height="10" fill="rgb(97,97,97)"/><rect x="360" y="270" width="10" height="10" fill="rgb(43,43,43)"/><rect x="370" y="270" width="10" height="10" fill="rgb(43,43,43)"/><rect x="380" y="270" width="10" height="10" fill="rgb(71,71,71)"/><rect x="390" y="270" width="10" height="10" fill="rgb(97,97,97)"/><rect x="400" y="270" width="10" height="10" fill="rgb(168,168,168)"/><rect x="410" y="270" width="10" height="10" fill="rgb(196,196,196)"/><rect x="420" y="270" width="10" height="10" fill="rgb(222,222,222)"/><rect x="430" y="270" width="10" height="10" fill="rgb(222,222,222)"/><rect x="440" y="270" width="10" height="10" fill="rgb(222,222,222)"/><rect x="450" y="270" width="10" height="10" fill="rgb(242,242,242)"/><rect x="460" y="270" width="10" height="10" fill="rgb(242,242,242)"/><rect x="470" y="270" width="10" height="10" fill="rgb(242,242,242)"/><rect x="480" y="270" width="10" height="10" fill="rgb(242,242,242)"/><rect x="490" y="270" width="10" height="10" fill="rgb(222,222,222)"/><rect x="500" y="270" width="10" height="10" fill="rgb(196,196,196)"/><rect x="510" y="270" width="10" height="10" fill="rgb(196,196,196)"/><rect x="520" y="270" width="10" height="10" fill="rgb(242,242,242)"/><rect x="530" y="270" width="10" height="10" fill="rgb(242,242,242)"/><rect x="540" y="270" width="10" height="10" fill="rgb(242,242,242)"/><rect x="550" y="270" width="10" height="10" fill="rgb(168,168,168)"/><rect x="560" y="270" width="10" height="10" fill="rgb(196,196,196)"/><rect x="570" y="270" width="10" height="10" fill="rgb(222,222,222)"/><rect x="580" y="270" width="10" height="10" fill="rgb(222,222,222)"/><rect x="590" y="270" width="10" height="10" fill="rgb(222,222,222)"/><rect x="600" y="270" width="10" height="10" fill="rgb(196,196,196)"/><rect x="610" y="270" width="10" height="10" fill="rgb(222,222,222)"/><rect x="620" y="270" width="10" height="10" fill="rgb(222,222,222)"/><rect x="630" y="270" width="10" height="10" fill="rgb(222,222,222)"/><rect x="640" y="270" width="10" height="10" fill="rgb(196,196,196)"/><rect x="650" y="270" width="10" height="10" fill="rgb(196,196,196)"/><rect x="660" y="270" width="10" height="10" fill="rgb(222,222,222)"/><rect x="670" y="270" width="10" height="10" fill="rgb(222,222,222)"/><rect x="680" y="270" width="10" height="10" fill="rgb(222,222,222)"/><rect x="690" y="270" width="10" height="10" fill="rgb(222,222,222)"/><rect x="700" y="270" width="10" height="10" fill="rgb(222,222,222)"/><rect x="710" y="270" width="10" height="10" fill="rgb(242,242,242)"/><rect x="720" y="270" width="10" height="10" fill="rgb(242,242,242)"/><rect x="730" y="270" width="10" height="10" fill="rgb(222,222,222)"/><rect x="740" y="270" width="10" height="10" fill="rgb(222,222,222)"/><rect x="750" y="270" width="10" height="10" fill="rgb(222,222,222)"/><rect x="760" y="270" width="10" height="10" fill="rgb(222,222,222)"/><rect x="150" y="280" width="10" height="10" fill="rgb(133,133,133)"/><rect x="160" y="280" width="10" height="10" fill="rgb(133,133,133)"/><rect x="170" y="280" width="10" height="10" fill="rgb(97,97,97)"/><rect x="180" y="280" width="10" height="10" fill="rgb(97,97,97)"/><rect x="190" y="280" width="10" height="10" fill="rgb(97,97,97)"/><rect x="200" y="280" width="10" height="10" fill="rgb(133,133,133)"/><rect x="210" y="280" width="10" height="10" fill="rgb(196,196,196)"/><rect x="220" y="280" width="10" height="10" fill="rgb(242,242,242)"/><rect x="230" y="280" width="10" height="10" fill="rgb(242,242,242)"/><rect x="240" y="280" width="10" height="10" fill="rgb(222,222,222)"/><rect x="250" y="280" width="10" height="10" fill="rgb(222,222,222)"/><rect x="260" y="280" width="10" height="10" fill="rgb(222,222,222)"/><rect x="270" y="280" width="10" height="10" fill="rgb(196,196,196)"/><rect x="280" y="280" width="10" height="10" fill="rgb(222,222,222)"/><rect x="290" y="280" width="10" height="10" fill="rgb(196,196,196)"/><rect x="300" y="280" width="10" height="10" fill="rgb(222,222,222)"/><rect x="310" y="280" width="10" height="10" fill="rgb(222,222,222)"/><rect x="320" y="280" width="10" height="10" fill="rgb(196,196,196)"/><rect x="330" y="280" width="10" height="10" fill="rgb(133,133,133)"/><rect x="340" y="280" width="10" height="10" fill="rgb(168,168,168)"/><rect x="350" y="280" width="10" height="10" fill="rgb(222,222,222)"/><rect x="360" y="280" width="10" height="10" fill="rgb(43,43,43)"/><rect x="370" y="280" width="10" height="10" fill="rgb(43,43,43)"/><rect x="380" y="280" width="10" height="10" fill="rgb(71,71,71)"/><rect x="390" y="280" width="10" height="10" fill="rgb(43,43,43)"/><rect x="400" y="280" width="10" height="10" fill="rgb(222,222,222)"/><rect x="410" y="280" width="10" height="10" fill="rgb(222,222,222)"/><rect x="420" y="280" width="10" height="10" fill="rgb(168,168,168)"/><rect x="430" y="280" width="10" height="10" fill="rgb(168,168,168)"/><rect x="440" y="280" width="10" height="10" fill="rgb(196,196,196)"/><rect x="450" y="280" width="10" height="10" fill="rgb(222,222,222)"/><rect x="460" y="280" width="10" height="10" fill="rgb(242,242,242)"/><rect x="470" y="280" width="10" height="10" fill="rgb(242,242,242)"/><rect x="480" y="280" width="10" height="10" fill="rgb(242,242,242)"/><rect x="490" y="280" width="10" height="10" fill="rgb(222,222,222)"/><rect x="500" y="280" width="10" height="10" fill="rgb(196,196,196)"/><rect x="510" y="280" width="10" height="10" fill="rgb(196,196,196)"/><rect x="520" y="280" width="10" height="10" fill="rgb(242,242,242)"/><rect x="530" y="280" width="10" height="10" fill="rgb(242,242,242)"/><rect x="540" y="280" width="10" height="10" fill="rgb(242,242,242)"/><rect x="550" y="280" width="10" height="10" fill="rgb(242,242,242)"/><rect x="560" y="280" width="10" height="10" fill="rgb(222,222,222)"/><rect x="570" y="280" width="10" height="10" fill="rgb(222,222,222)"/><rect x="580" y="280" width="10" height="10" fill="rgb(222,222,222)"/><rect x="590" y="280" width="10" height="10" fill="rgb(222,222,222)"/><rect x="600" y="280" width="10" height="10" fill="rgb(196,196,196)"/><rect x="610" y="280" width="10" height="10" fill="rgb(222,222,222)"/><rect x="620" y="280" width="10" height="10" fill="rgb(222,222,222)"/><rect x="630" y="280" width="10" height="10" fill="rgb(222,222,222)"/><rect x="640" y="280" width="10" height="10" fill="rgb(196,196,196)"/><rect x="650" y="280" width="10" height="10" fill="rgb(196,196,196)"/><rect x="660" y="280" width="10" height="10" fill="rgb(222,222,222)"/><rect x="670" y="280" width="10" height="10" fill="rgb(222,222,222)"/><rect x="680" y="280" width="10" height="10" fill="rgb(222,222,222)"/><rect x="690" y="280" width="10" height="10" fill="rgb(222,222,222)"/><rect x="700" y="280" width="10" height="10" fill="rgb(222,222,222)"/><rect x="710" y="280" width="10" height="10" fill="rgb(242,242,242)"/><rect x="720" y="280" width="10" height="10" fill="rgb(242,242,242)"/><rect x="730" y="280" width="10" height="10" fill="rgb(222,222,222)"/><rect x="740" y="280" width="10" height="10" fill="rgb(222,222,222)"/><rect x="750" y="280" width="10" height="10" fill="rgb(222,222,222)"/><rect x="760" y="280" width="10" height="10" fill="rgb(222,222,222)"/><rect x="150" y="290" width="10" height="10" fill="rgb(133,133,133)"/><rect x="160" y="290" width="10" height="10" fill="rgb(133,133,133)"/><rect x="170" y="290" width="10" height="10" fill="rgb(97,97,97)"/><rect x="180" y="290" width="10" height="10" fill="rgb(97,97,97)"/><rect x="190" y="290" width="10" height="10" fill="rgb(97,97,97)"/><rect x="200" y="290" width="10" height="10" fill="rgb(133,133,133)"/><rect x="210" y="290" width="10" height="10" fill="rgb(196,196,196)"/><rect x="220" y="290" width="10" height="10" fill="rgb(222,222,222)"/><rect x="230" y="290" width="10" height="10" fill="rgb(242,242,242)"/><rect x="240" y="290" width="10" height="10" fill="rgb(222,222,222)"/><rect x="250" y="290" width="10" height="10" fill="rgb(222,222,222)"/><rect x="260" y="290" width="10" height="10" fill="rgb(222,222,222)"/><rect x="270" y="290" width="10" height="10" fill="rgb(196,196,196)"/><rect x="280" y="290" width="10" height="10" fill="rgb(222,222,222)"/><rect x="290" y="290" width="10" height="10" fill="rgb(196,196,196)"/><rect x="300" y="290" width="10" height="10" fill="rgb(222,222,222)"/><rect x="310" y="290" width="10" height="10" fill="rgb(222,222,222)"/><rect x="320" y="290" width="10" height="10" fill="rgb(222,222,222)"/><rect x="330" y="290" width="10" height="10" fill="rgb(133,133,133)"/><rect x="340" y="290" width="10" height="10" fill="rgb(168,168,168)"/><rect x="350" y="290" width="10" height="10" fill="rgb(222,222,222)"/><rect x="360" y="290" width="10" height="10" fill="rgb(43,43,43)"/><rect x="370" y="290" width="10" height="10" fill="rgb(43,43,43)"/><rect x="380" y="290" width="10" height="10" fill="rgb(71,71,71)"/><rect x="390" y="290" width="10" height="10" fill="rgb(43,43,43)"/><rect x="400" y="290" width="10" height="10" fill="rgb(222,222,222)"/><rect x="410" y="290" width="10" height="10" fill="rgb(222,222,222)"/><rect x="420" y="290" width="10" height="10" fill="rgb(222,222,222)"/><rect x="430" y="290" width="10" height="10" fill="rgb(222,222,222)"/><rect x="440" y="290" width="10" height="10" fill="rgb(168,168,168)"/><rect x="450" y="290" width="10" height="10" fill="rgb(168,168,168)"/><rect x="460" y="290" width="10" height="10" fill="rgb(222,222,222)"/><rect x="470" y="290" width="10" height="10" fill="rgb(196,196,196)"/><rect x="480" y="290" width="10" height="10" fill="rgb(168,168,168)"/><rect x="490" y="290" width="10" height="10" fill="rgb(222,222,222)"/><rect x="500" y="290" width="10" height="10" fill="rgb(222,222,222)"/><rect x="510" y="290" width="10" height="10" fill="rgb(196,196,196)"/><rect x="520" y="290" width="10" height="10" fill="rgb(242,242,242)"/><rect x="530" y="290" width="10" height="10" fill="rgb(242,242,242)"/><rect x="540" y="290" width="10" height="10" fill="rgb(242,242,242)"/><rect x="550" y="290" width="10" height="10" fill="rgb(242,242,242)"/><rect x="560" y="290" width="10" height="10" fill="rgb(222,222,222)"/><rect x="570" y="290" width="10" height="10" fill="rgb(222,222,222)"/><rect x="580" y="290" width="10" height="10" fill="rgb(222,222,222)"/><rect x="590" y="290" width="10" height="10" fill="rgb(222,222,222)"/><rect x="600" y="290" width="10" height="10" fill="rgb(196,196,196)"/><rect x="610" y="290" width="10" height="10" fill="rgb(222,222,222)"/><rect x="620" y="290" width="10" height="10" fill="rgb(222,222,222)"/><rect x="630" y="290" width="10" height="10" fill="rgb(222,222,222)"/><rect x="640" y="290" width="10" height="10" fill="rgb(196,196,196)"/><rect x="650" y="290" width="10" height="10" fill="rgb(196,196,196)"/><rect x="660" y="290" width="10" height="10" fill="rgb(222,222,222)"/><rect x="670" y="290" width="10" height="10" fill="rgb(222,222,222)"/><rect x="680" y="290" width="10" height="10" fill="rgb(222,222,222)"/><rect x="690" y="290" width="10" height="10" fill="rgb(222,222,222)"/><rect x="700" y="290" width="10" height="10" fill="rgb(222,222,222)"/><rect x="710" y="290" width="10" height="10" fill="rgb(242,242,242)"/><rect x="720" y="290" width="10" height="10" fill="rgb(242,242,242)"/><rect x="730" y="290" width="10" height="10" fill="rgb(222,222,222)"/><rect x="740" y="290" width="10" height="10" fill="rgb(222,222,222)"/><rect x="750" y="290" width="10" height="10" fill="rgb(222,222,222)"/><rect x="760" y="290" width="10" height="10" fill="rgb(222,222,222)"/><rect x="150" y="300" width="10" height="10" fill="rgb(133,133,133)"/><rect x="160" y="300" width="10" height="10" fill="rgb(133,133,133)"/><rect x="170" y="300" width="10" height="10" fill="rgb(97,97,97)"/><rect x="180" y="300" width="10" height="10" fill="rgb(97,97,97)"/><rect x="190" y="300" width="10" height="10" fill="rgb(97,97,97)"/><rect x="200" y="300" width="10" height="10" fill="rgb(133,133,133)"/><rect x="210" y="300" width="10" height="10" fill="rgb(196,196,196)"/><rect x="220" y="300" width="10" height="10" fill="rgb(196,196,196)"/><rect x="230" y="300" width="10" height="10" fill="rgb(196,196,196)"/><rect x="240" y="300" width="10" height="10" fill="rgb(222,222,222)"/><rect x="250" y="300" width="10" height="10" fill="rgb(222,222,222)"/><rect x="260" y="300" width="10" height="10" fill="rgb(222,222,222)"/><rect x="270" y="300" width="10" height="10" fill="rgb(196,196,196)"/><rect x="280" y="300" width="10" height="10" fill="rgb(222,222,222)"/><rect x="290" y="300" width="10" height="10" fill="rgb(196,196,196)"/><rect x="300" y="300" width="10" height="10" fill="rgb(222,222,222)"/><rect x="310" y="300" width="10" height="10" fill="rgb(222,222,222)"/><rect x="320" y="300" width="10" height="10" fill="rgb(222,222,222)"/><rect x="330" y="300" width="10" height="10" fill="rgb(133,133,133)"/><rect x="340" y="300" width="10" height="10" fill="rgb(168,168,168)"/><rect x="350" y="300" width="10" height="10" fill="rgb(222,222,222)"/><rect x="360" y="300" width="10" height="10" fill="rgb(43,43,43)"/><rect x="370" y="300" width="10" height="10" fill="rgb(43,43,43)"/><rect x="380" y="300" width="10" height="10" fill="rgb(71,71,71)"/><rect x="390" y="300" width="10" height="10" fill="rgb(43,43,43)"/><rect x="400" y="300" width="10" height="10" fill="rgb(222,222,222)"/><rect x="410" y="300" width="10" height="10" fill="rgb(222,222,222)"/><rect x="420" y="300" width="10" height="10" fill="rgb(222,222,222)"/><rect x="430" y="300" width="10" height="10" fill="rgb(242,242,242)"/><rect x="440" y="300" width="10" height="10" fill="rgb(222,222,222)"/><rect x="450" y="300" width="10" height="10" fill="rgb(168,168,168)"/><rect x="460" y="300" width="10" height="10" fill="rgb(168,168,168)"/><rect x="470" y="300" width="10" height="10" fill="rgb(168,168,168)"/><rect x="480" y="300" width="10" height="10" fill="rgb(196,196,196)"/><rect x="490" y="300" width="10" height="10" fill="rgb(222,222,222)"/><rect x="500" y="300" width="10" height="10" fill="rgb(222,222,222)"/><rect x="510" y="300" width="10" height="10" fill="rgb(196,196,196)"/><rect x="520" y="300" width="10" height="10" fill="rgb(242,242,242)"/><rect x="530" y="300" width="10" height="10" fill="rgb(242,242,242)"/><rect x="540" y="300" width="10" height="10" fill="rgb(242,242,242)"/><rect x="550" y="300" width="10" height="10" fill="rgb(242,242,242)"/><rect x="560" y="300" width="10" height="10" fill="rgb(222,222,222)"/><rect x="570" y="300" width="10" height="10" fill="rgb(222,222,222)"/><rect x="580" y="300" width="10" height="10" fill="rgb(222,222,222)"/><rect x="590" y="300" width="10" height="10" fill="rgb(222,222,222)"/><rect x="600" y="300" width="10" height="10" fill="rgb(196,196,196)"/><rect x="610" y="300" width="10" height="10" fill="rgb(222,222,222)"/><rect x="620" y="300" width="10" height="10" fill="rgb(222,222,222)"/><rect x="630" y="300" width="10" height="10" fill="rgb(222,222,222)"/><rect x="640" y="300" width="10" height="10" fill="rgb(196,196,196)"/><rect x="650" y="300" width="10" height="10" fill="rgb(196,196,196)"/><rect x="660" y="300" width="10" height="10" fill="rgb(222,222,222)"/><rect x="670" y="300" width="10" height="10" fill="rgb(222,222,222)"/><rect x="680" y="300" width="10" height="10" fill="rgb(222,222,222)"/><rect x="690" y="300" width="10" height="10" fill="rgb(222,222,222)"/><rect x="700" y="300" width="10" height="10" fill="rgb(222,222,222)"/><rect x="710" y="300" width="10" height="10" fill="rgb(242,242,242)"/><rect x="720" y="300" width="10" height="10" fill="rgb(242,242,242)"/><rect x="730" y="300" width="10" height="10" fill="rgb(222,222,222)"/><rect x="740" y="300" width="10" height="10" fill="rgb(222,222,222)"/><rect x="750" y="300" width="10" height="10" fill="rgb(222,222,222)"/><rect x="760" y="300" width="10" height="10" fill="rgb(222,222,222)"/><rect x="150" y="310" width="10" height="10" fill="rgb(133,133,133)"/><rect x="160" y="310" width="10" height="10" fill="rgb(133,133,133)"/><rect x="170" y="310" width="10" height="10" fill="rgb(97,97,97)"/><rect x="180" y="310" width="10" height="10" fill="rgb(97,97,97)"/><rect x="190" y="310" width="10" height="10" fill="rgb(97,97,97)"/><rect x="200" y="310" width="10" height="10" fill="rgb(133,133,133)"/><rect x="210" y="310" width="10" height="10" fill="rgb(196,196,196)"/><rect x="220" y="310" width="10" height="10" fill="rgb(196,196,196)"/><rect x="230" y="310" width="10" height="10" fill="rgb(196,196,196)"/><rect x="240" y="310" width="10" height="10" fill="rgb(222,222,222)"/><rect x="250" y="310" width="10" height="10" fill="rgb(222,222,222)"/><rect x="260" y="310" width="10" height="10" fill="rgb(222,222,222)"/><rect x="270" y="310" width="10" height="10" fill="rgb(196,196,196)"/><rect x="280" y="310" width="10" height="10" fill="rgb(222,222,222)"/><rect x="290" y="310" width="10" height="10" fill="rgb(196,196,196)"/><rect x="300" y="310" width="10" height="10" fill="rgb(222,222,222)"/><rect x="310" y="310" width="10" height="10" fill="rgb(222,222,222)"/><rect x="320" y="310" width="10" height="10" fill="rgb(222,222,222)"/><rect x="330" y="310" width="10" height="10" fill="rgb(133,133,133)"/><rect x="340" y="310" width="10" height="10" fill="rgb(168,168,168)"/><rect x="350" y="310" width="10" height="10" fill="rgb(222,222,222)"/><rect x="360" y="310" width="10" height="10" fill="rgb(43,43,43)"/><rect x="370" y="310" width="10" height="10" fill="rgb(43,43,43)"/><rect x="380" y="310" width="10" height="10" fill="rgb(71,71,71)"/><rect x="390" y="310" width="10" height="10" fill="rgb(43,43,43)"/><rect x="400" y="310" width="10" height="10" fill="rgb(222,222,222)"/><rect x="410" y="310" width="10" height="10" fill="rgb(242,242,242)"/><rect x="420" y="310" width="10" height="10" fill="rgb(242,242,242)"/><rect x="430" y="310" width="10" height="10" fill="rgb(242,242,242)"/><rect x="440" y="310" width="10" height="10" fill="rgb(222,222,222)"/><rect x="450" y="310" width="10" height="10" fill="rgb(168,168,168)"/><rect x="460" y="310" width="10" height="10" fill="rgb(168,168,168)"/><rect x="470" y="310" width="10" height="10" fill="rgb(222,222,222)"/><rect x="480" y="310" width="10" height="10" fill="rgb(196,196,196)"/><rect x="490" y="310" width="10" height="10" fill="rgb(222,222,222)"/><rect x="500" y="310" width="10" height="10" fill="rgb(222,222,222)"/><rect x="510" y="310" width="10" height="10" fill="rgb(196,196,196)"/><rect x="520" y="310" width="10" height="10" fill="rgb(242,242,242)"/><rect x="530" y="310" width="10" height="10" fill="rgb(242,242,242)"/><rect x="540" y="310" width="10" height="10" fill="rgb(242,242,242)"/><rect x="550" y="310" width="10" height="10" fill="rgb(242,242,242)"/><rect x="560" y="310" width="10" height="10" fill="rgb(222,222,222)"/><rect x="570" y="310" width="10" height="10" fill="rgb(222,222,222)"/><rect x="580" y="310" width="10" height="10" fill="rgb(222,222,222)"/><rect x="590" y="310" width="10" height="10" fill="rgb(222,222,222)"/><rect x="600" y="310" width="10" height="10" fill="rgb(196,196,196)"/><rect x="610" y="310" width="10" height="10" fill="rgb(222,222,222)"/><rect x="620" y="310" width="10" height="10" fill="rgb(222,222,222)"/><rect x="630" y="310" width="10" height="10" fill="rgb(222,222,222)"/><rect x="640" y="310" width="10" height="10" fill="rgb(196,196,196)"/><rect x="650" y="310" width="10" height="10" fill="rgb(196,196,196)"/><rect x="660" y="310" width="10" height="10" fill="rgb(222,222,222)"/><rect x="670" y="310" width="10" height="10" fill="rgb(222,222,222)"/><rect x="680" y="310" width="10" height="10" fill="rgb(222,222,222)"/><rect x="690" y="310" width="10" height="10" fill="rgb(222,222,222)"/><rect x="700" y="310" width="10" height="10" fill="rgb(222,222,222)"/><rect x="710" y="310" width="10" height="10" fill="rgb(242,242,242)"/><rect x="720" y="310" width="10" height="10" fill="rgb(242,242,242)"/><rect x="730" y="310" width="10" height="10" fill="rgb(222,222,222)"/><rect x="740" y="310" width="10" height="10" fill="rgb(222,222,222)"/><rect x="750" y="310" width="10" height="10" fill="rgb(222,222,222)"/><rect x="760" y="310" width="10" height="10" fill="rgb(222,222,222)"/><rect x="150" y="320" width="10" height="10" fill="rgb(133,133,133)"/><rect x="160" y="320" width="10" height="10" fill="rgb(133,133,133)"/><rect x="170" y="320" width="10" height="10" fill="rgb(97,97,97)"/><rect x="180" y="320" width="10" height="10" fill="rgb(97,97,97)"/><rect x="190" y="320" width="10" height="10" fill="rgb(97,97,97)"/><rect x="200" y="320" width="10" height="10" fill="rgb(133,133,133)"/><rect x="210" y="320" width="10" height="10" fill="rgb(196,196,196)"/><rect x="220" y="320" width="10" height="10" fill="rgb(196,196,196)"/><rect x="230" y="320" width="10" height="10" fill="rgb(196,196,196)"/><rect x="240" y="320" width="10" height="10" fill="rgb(222,222,222)"/><rect x="250" y="320" width="10" height="10" fill="rgb(222,222,222)"/><rect x="260" y="320" width="10" height="10" fill="rgb(222,222,222)"/><rect x="270" y="320" width="10" height="10" fill="rgb(196,196,196)"/><rect x="280" y="320" width="10" height="10" fill="rgb(222,222,222)"/><rect x="290" y="320" width="10" height="10" fill="rgb(196,196,196)"/><rect x="300" y="320" width="10" height="10" fill="rgb(222,222,222)"/><rect x="310" y="320" width="10" height="10" fill="rgb(222,222,222)"/><rect x="320" y="320" width="10" height="10" fill="rgb(222,222,222)"/><rect x="330" y="320" width="10" height="10" fill="rgb(133,133,133)"/><rect x="340" y="320" width="10" height="10" fill="rgb(168,168,168)"/><rect x="350" y="320" width="10" height="10" fill="rgb(222,222,222)"/><rect x="360" y="320" width="10" height="10" fill="rgb(43,43,43)"/><rect x="370" y="320" width="10" height="10" fill="rgb(43,43,43)"/><rect x="380" y="320" width="10" height="10" fill="rgb(71,71,71)"/><rect x="390" y="320" width="10" height="10" fill="rgb(43,43,43)"/><rect x="400" y="320" width="10" height="10" fill="rgb(242,242,242)"/><rect x="410" y="320" width="10" height="10" fill="rgb(242,242,242)"/><rect x="420" y="320" width="10" height="10" fill="rgb(242,242,242)"/><rect x="430" y="320" width="10" height="10" fill="rgb(242,242,242)"/><rect x="440" y="320" width="10" height="10" fill="rgb(242,242,242)"/><rect x="450" y="320" width="10" height="10" fill="rgb(168,168,168)"/><rect x="460" y="320" width="10" height="10" fill="rgb(242,242,242)"/><rect x="470" y="320" width="10" height="10" fill="rgb(242,242,242)"/><rect x="480" y="320" width="10" height="10" fill="rgb(242,242,242)"/><rect x="490" y="320" width="10" height="10" fill="rgb(242,242,242)"/><rect x="500" y="320" width="10" height="10" fill="rgb(242,242,242)"/><rect x="510" y="320" width="10" height="10" fill="rgb(242,242,242)"/><rect x="520" y="320" width="10" height="10" fill="rgb(242,242,242)"/><rect x="530" y="320" width="10" height="10" fill="rgb(242,242,242)"/><rect x="540" y="320" width="10" height="10" fill="rgb(242,242,242)"/><rect x="550" y="320" width="10" height="10" fill="rgb(242,242,242)"/><rect x="560" y="320" width="10" height="10" fill="rgb(222,222,222)"/><rect x="570" y="320" width="10" height="10" fill="rgb(222,222,222)"/><rect x="580" y="320" width="10" height="10" fill="rgb(222,222,222)"/><rect x="590" y="320" width="10" height="10" fill="rgb(222,222,222)"/><rect x="600" y="320" width="10" height="10" fill="rgb(196,196,196)"/><rect x="610" y="320" width="10" height="10" fill="rgb(222,222,222)"/><rect x="620" y="320" width="10" height="10" fill="rgb(222,222,222)"/><rect x="630" y="320" width="10" height="10" fill="rgb(222,222,222)"/><rect x="640" y="320" width="10" height="10" fill="rgb(196,196,196)"/><rect x="650" y="320" width="10" height="10" fill="rgb(196,196,196)"/><rect x="660" y="320" width="10" height="10" fill="rgb(222,222,222)"/><rect x="670" y="320" width="10" height="10" fill="rgb(222,222,222)"/><rect x="680" y="320" width="10" height="10" fill="rgb(222,222,222)"/><rect x="690" y="320" width="10" height="10" fill="rgb(222,222,222)"/><rect x="700" y="320" width="10" height="10" fill="rgb(222,222,222)"/><rect x="710" y="320" width="10" height="10" fill="rgb(242,242,242)"/><rect x="720" y="320" width="10" height="10" fill="rgb(242,242,242)"/><rect x="730" y="320" width="10" height="10" fill="rgb(222,222,222)"/><rect x="740" y="320" width="10" height="10" fill="rgb(222,222,222)"/><rect x="750" y="320" width="10" height="10" fill="rgb(222,222,222)"/><rect x="760" y="320" width="10" height="10" fill="rgb(222,222,222)"/><rect x="150" y="330" width="10" height="10" fill="rgb(133,133,133)"/><rect x="160" y="330" width="10" height="10" fill="rgb(133,133,133)"/><rect x="170" y="330" width="10" height="10" fill="rgb(97,97,97)"/><rect x="180" y="330" width="10" height="10" fill="rgb(97,97,97)"/><rect x="190" y="330" width="10" height="10" fill="rgb(97,97,97)"/><rect x="200" y="330" width="10" height="10" fill="rgb(133,133,133)"/><rect x="210" y="330" width="10" height="10" fill="rgb(196,196,196)"/><rect x="220" y="330" width="10" height="10" fill="rgb(196,196,196)"/><rect x="230" y="330" width="10" height="10" fill="rgb(196,196,196)"/><rect x="240" y="330" width="10" height="10" fill="rgb(222,222,222)"/><rect x="250" y="330" width="10" height="10" fill="rgb(222,222,222)"/><rect x="260" y="330" width="10" height="10" fill="rgb(222,222,222)"/><rect x="270" y="330" width="10" height="10" fill="rgb(196,196,196)"/><rect x="280" y="330" width="10" height="10" fill="rgb(222,222,222)"/><rect x="290" y="330" width="10" height="10" fill="rgb(196,196,196)"/><rect x="300" y="330" width="10" height="10" fill="rgb(222,222,222)"/><rect x="310" y="330" width="10" height="10" fill="rgb(222,222,222)"/><rect x="320" y="330" width="10" height="10" fill="rgb(222,222,222)"/><rect x="330" y="330" width="10" height="10" fill="rgb(133,133,133)"/><rect x="340" y="330" width="10" height="10" fill="rgb(168,168,168)"/><rect x="350" y="330" width="10" height="10" fill="rgb(222,222,222)"/><rect x="360" y="330" width="10" height="10" fill="rgb(43,43,43)"/><rect x="370" y="330" width="10" height="10" fill="rgb(43,43,43)"/><rect x="380" y="330" width="10" height="10" fill="rgb(71,71,71)"/><rect x="390" y="330" width="10" height="10" fill="rgb(242,242,242)"/><rect x="400" y="330" width="10" height="10" fill="rgb(242,242,242)"/><rect x="410" y="330" width="10" height="10" fill="rgb(242,242,242)"/><rect x="420" y="330" width="10" height="10" fill="rgb(242,242,242)"/><rect x="430" y="330" width="10" height="10" fill="rgb(242,242,242)"/><rect x="440" y="330" width="10" height="10" fill="rgb(242,242,242)"/><rect x="450" y="330" width="10" height="10" fill="rgb(242,242,242)"/><rect x="460" y="330" width="10" height="10" fill="rgb(242,242,242)"/><rect x="470" y="330" width="10" height="10" fill="rgb(242,242,242)"/><rect x="480" y="330" width="10" height="10" fill="rgb(242,242,242)"/><rect x="490" y="330" width="10" height="10" fill="rgb(242,242,242)"/><rect x="500" y="330" width="10" height="10" fill="rgb(242,242,242)"/><rect x="510" y="330" width="10" height="10" fill="rgb(242,242,242)"/><rect x="520" y="330" width="10" height="10" fill="rgb(242,242,242)"/><rect x="530" y="330" width="10" height="10" fill="rgb(242,242,242)"/><rect x="540" y="330" width="10" height="10" fill="rgb(242,242,242)"/><rect x="550" y="330" width="10" height="10" fill="rgb(242,242,242)"/><rect x="560" y="330" width="10" height="10" fill="rgb(222,222,222)"/><rect x="570" y="330" width="10" height="10" fill="rgb(222,222,222)"/><rect x="580" y="330" width="10" height="10" fill="rgb(222,222,222)"/><rect x="590" y="330" width="10" height="10" fill="rgb(222,222,222)"/><rect x="600" y="330" width="10" height="10" fill="rgb(196,196,196)"/><rect x="610" y="330" width="10" height="10" fill="rgb(222,222,222)"/><rect x="620" y="330" width="10" height="10" fill="rgb(222,222,222)"/><rect x="630" y="330" width="10" height="10" fill="rgb(222,222,222)"/><rect x="640" y="330" width="10" height="10" fill="rgb(196,196,196)"/><rect x="650" y="330" width="10" height="10" fill="rgb(196,196,196)"/><rect x="660" y="330" width="10" height="10" fill="rgb(222,222,222)"/><rect x="670" y="330" width="10" height="10" fill="rgb(222,222,222)"/><rect x="680" y="330" width="10" height="10" fill="rgb(222,222,222)"/><rect x="690" y="330" width="10" height="10" fill="rgb(222,222,222)"/><rect x="700" y="330" width="10" height="10" fill="rgb(222,222,222)"/><rect x="710" y="330" width="10" height="10" fill="rgb(242,242,242)"/><rect x="720" y="330" width="10" height="10" fill="rgb(242,242,242)"/><rect x="730" y="330" width="10" height="10" fill="rgb(222,222,222)"/><rect x="740" y="330" width="10" height="10" fill="rgb(222,222,222)"/><rect x="750" y="330" width="10" height="10" fill="rgb(222,222,222)"/><rect x="760" y="330" width="10" height="10" fill="rgb(222,222,222)"/><rect x="150" y="340" width="10" height="10" fill="rgb(133,133,133)"/><rect x="160" y="340" width="10" height="10" fill="rgb(133,133,133)"/><rect x="170" y="340" width="10" height="10" fill="rgb(97,97,97)"/><rect x="180" y="340" width="10" height="10" fill="rgb(97,97,97)"/><rect x="190" y="340" width="10" height="10" fill="rgb(97,97,97)"/><rect x="200" y="340" width="10" height="10" fill="rgb(133,133,133)"/><rect x="210" y="340" width="10" height="10" fill="rgb(196,196,196)"/><rect x="220" y="340" width="10" height="10" fill="rgb(196,196,196)"/><rect x="230" y="340" width="10" height="10" fill="rgb(196,196,196)"/><rect x="240" y="340" width="10" height="10" fill="rgb(222,222,222)"/><rect x="250" y="340" width="10" height="10" fill="rgb(222,222,222)"/><rect x="260" y="340" width="10" height="10" fill="rgb(222,222,222)"/><rect x="270" y="340" width="10" height="10" fill="rgb(196,196,196)"/><rect x="280" y="340" width="10" height="10" fill="rgb(222,222,222)"/><rect x="290" y="340" width="10" height="10" fill="rgb(196,196,196)"/><rect x="300" y="340" width="10" height="10" fill="rgb(222,222,222)"/><rect x="310" y="340" width="10" height="10" fill="rgb(222,222,222)"/><rect x="320" y="340" width="10" height="10" fill="rgb(222,222,222)"/><rect x="330" y="340" width="10" height="10" fill="rgb(133,133,133)"/><rect x="340" y="340" width="10" height="10" fill="rgb(168,168,168)"/><rect x="350" y="340" width="10" height="10" fill="rgb(222,222,222)"/><rect x="360" y="340" width="10" height="10" fill="rgb(43,43,43)"/><rect x="370" y="340" width="10" height="10" fill="rgb(43,43,43)"/><rect x="380" y="340" width="10" height="10" fill="rgb(71,71,71)"/><rect x="390" y="340" width="10" height="10" fill="rgb(242,242,242)"/><rect x="400" y="340" width="10" height="10" fill="rgb(242,242,242)"/><rect x="410" y="340" width="10" height="10" fill="rgb(242,242,242)"/><rect x="420" y="340" width="10" height="10" fill="rgb(242,242,242)"/><rect x="430" y="340" width="10" height="10" fill="rgb(242,242,242)"/><rect x="440" y="340" width="10" height="10" fill="rgb(242,242,242)"/><rect x="450" y="340" width="10" height="10" fill="rgb(242,242,242)"/><rect x="460" y="340" width="10" height="10" fill="rgb(242,242,242)"/><rect x="470" y="340" width="10" height="10" fill="rgb(242,242,242)"/><rect x="480" y="340" width="10" height="10" fill="rgb(242,242,242)"/><rect x="490" y="340" width="10" height="10" fill="rgb(242,242,242)"/><rect x="500" y="340" width="10" height="10" fill="rgb(242,242,242)"/><rect x="510" y="340" width="10" height="10" fill="rgb(242,242,242)"/><rect x="520" y="340" width="10" height="10" fill="rgb(242,242,242)"/><rect x="530" y="340" width="10" height="10" fill="rgb(242,242,242)"/><rect x="540" y="340" width="10" height="10" fill="rgb(242,242,242)"/><rect x="550" y="340" width="10" height="10" fill="rgb(242,242,242)"/><rect x="560" y="340" width="10" height="10" fill="rgb(222,222,222)"/><rect x="570" y="340" width="10" height="10" fill="rgb(222,222,222)"/><rect x="580" y="340" width="10" height="10" fill="rgb(222,222,222)"/><rect x="590" y="340" width="10" height="10" fill="rgb(222,222,222)"/><rect x="600" y="340" width="10" height="10" fill="rgb(196,196,196)"/><rect x="610" y="340" width="10" height="10" fill="rgb(222,222,222)"/><rect x="620" y="340" width="10" height="10" fill="rgb(222,222,222)"/><rect x="630" y="340" width="10" height="10" fill="rgb(222,222,222)"/><rect x="640" y="340" width="10" height="10" fill="rgb(196,196,196)"/><rect x="650" y="340" width="10" height="10" fill="rgb(196,196,196)"/><rect x="660" y="340" width="10" height="10" fill="rgb(222,222,222)"/><rect x="670" y="340" width="10" height="10" fill="rgb(222,222,222)"/><rect x="680" y="340" width="10" height="10" fill="rgb(222,222,222)"/><rect x="690" y="340" width="10" height="10" fill="rgb(222,222,222)"/><rect x="700" y="340" width="10" height="10" fill="rgb(222,222,222)"/><rect x="710" y="340" width="10" height="10" fill="rgb(242,242,242)"/><rect x="720" y="340" width="10" height="10" fill="rgb(242,242,242)"/><rect x="730" y="340" width="10" height="10" fill="rgb(222,222,222)"/><rect x="740" y="340" width="10" height="10" fill="rgb(222,222,222)"/><rect x="750" y="340" width="10" height="10" fill="rgb(222,222,222)"/><rect x="760" y="340" width="10" height="10" fill="rgb(222,222,222)"/><rect x="150" y="350" width="10" height="10" fill="rgb(133,133,133)"/><rect x="160" y="350" width="10" height="10" fill="rgb(133,133,133)"/><rect x="170" y="350" width="10" height="10" fill="rgb(97,97,97)"/><rect x="180" y="350" width="10" height="10" fill="rgb(97,97,97)"/><rect x="190" y="350" width="10" height="10" fill="rgb(97,97,97)"/><rect x="200" y="350" width="10" height="10" fill="rgb(133,133,133)"/><rect x="210" y="350" width="10" height="10" fill="rgb(196,196,196)"/><rect x="220" y="350" width="10" height="10" fill="rgb(196,196,196)"/><rect x="230" y="350" width="10" height="10" fill="rgb(196,196,196)"/><rect x="240" y="350" width="10" height="10" fill="rgb(222,222,222)"/><rect x="250" y="350" width="10" height="10" fill="rgb(222,222,222)"/><rect x="260" y="350" width="10" height="10" fill="rgb(222,222,222)"/><rect x="270" y="350" width="10" height="10" fill="rgb(196,196,196)"/><rect x="280" y="350" width="10" height="10" fill="rgb(222,222,222)"/><rect x="290" y="350" width="10" height="10" fill="rgb(196,196,196)"/><rect x="300" y="350" width="10" height="10" fill="rgb(222,222,222)"/><rect x="310" y="350" width="10" height="10" fill="rgb(222,222,222)"/><rect x="320" y="350" width="10" height="10" fill="rgb(222,222,222)"/><rect x="330" y="350" width="10" height="10" fill="rgb(133,133,133)"/><rect x="340" y="350" width="10" height="10" fill="rgb(168,168,168)"/><rect x="350" y="350" width="10" height="10" fill="rgb(222,222,222)"/><rect x="360" y="350" width="10" height="10" fill="rgb(43,43,43)"/><rect x="370" y="350" width="10" height="10" fill="rgb(43,43,43)"/><rect x="380" y="350" width="10" height="10" fill="rgb(71,71,71)"/><rect x="390" y="350" width="10" height="10" fill="rgb(242,242,242)"/><rect x="400" y="350" width="10" height="10" fill="rgb(242,242,242)"/><rect x="410" y="350" width="10" height="10" fill="rgb(242,242,242)"/><rect x="420" y="350" width="10" height="10" fill="rgb(242,242,242)"/><rect x="430" y="350" width="10" height="10" fill="rgb(242,242,242)"/><rect x="440" y="350" width="10" height="10" fill="rgb(242,242,242)"/><rect x="450" y="350" width="10" height="10" fill="rgb(242,242,242)"/><rect x="460" y="350" width="10" height="10" fill="rgb(242,242,242)"/><rect x="470" y="350" width="10" height="10" fill="rgb(242,242,242)"/><rect x="480" y="350" width="10" height="10" fill="rgb(242,242,242)"/><rect x="490" y="350" width="10" height="10" fill="rgb(242,242,242)"/><rect x="500" y="350" width="10" height="10" fill="rgb(242,242,242)"/><rect x="510" y="350" width="10" height="10" fill="rgb(242,242,242)"/><rect x="520" y="350" width="10" height="10" fill="rgb(242,242,242)"/><rect x="530" y="350" width="10" height="10" fill="rgb(242,242,242)"/><rect x="540" y="350" width="10" height="10" fill="rgb(242,242,242)"/><rect x="550" y="350" width="10" height="10" fill="rgb(242,242,242)"/><rect x="560" y="350" width="10" height="10" fill="rgb(222,222,222)"/><rect x="570" y="350" width="10" height="10" fill="rgb(222,222,222)"/><rect x="580" y="350" width="10" height="10" fill="rgb(222,222,222)"/><rect x="590" y="350" width="10" height="10" fill="rgb(222,222,222)"/><rect x="600" y="350" width="10" height="10" fill="rgb(196,196,196)"/><rect x="610" y="350" width="10" height="10" fill="rgb(222,222,222)"/><rect x="620" y="350" width="10" height="10" fill="rgb(222,222,222)"/><rect x="630" y="350" width="10" height="10" fill="rgb(222,222,222)"/><rect x="640" y="350" width="10" height="10" fill="rgb(196,196,196)"/><rect x="650" y="350" width="10" height="10" fill="rgb(196,196,196)"/><rect x="660" y="350" width="10" height="10" fill="rgb(222,222,222)"/><rect x="670" y="350" width="10" height="10" fill="rgb(222,222,222)"/><rect x="680" y="350" width="10" height="10" fill="rgb(222,222,222)"/><rect x="690" y="350" width="10" height="10" fill="rgb(222,222,222)"/><rect x="700" y="350" width="10" height="10" fill="rgb(222,222,222)"/><rect x="710" y="350" width="10" height="10" fill="rgb(242,242,242)"/><rect x="720" y="350" width="10" height="10" fill="rgb(242,242,242)"/><rect x="730" y="350" width="10" height="10" fill="rgb(222,222,222)"/><rect x="740" y="350" width="10" height="10" fill="rgb(222,222,222)"/><rect x="750" y="350" width="10" height="10" fill="rgb(222,222,222)"/><rect x="760" y="350" width="10" height="10" fill="rgb(222,222,222)"/><polyline points="348,123 362,131 378,143 394,156" fill="none" stroke="rgb(97,97,97)" stroke-width="6" stroke-linecap="round" stroke-linejoin="round"/><polyline points="351,124 357,128" fill="none" stroke="rgb(20,20,20)" stroke-width="4" stroke-linecap="round" stroke-linejoin="round"/><polyline points="362,125 366,136" fill="none" stroke="rgb(20,20,20)" stroke-width="4" stroke-linecap="round" stroke-linejoin="round"/><polyline points="398,276 428,284 448,293 457,300 461,311 452,327" fill="none" stroke="rgb(168,168,168)" stroke-width="15" stroke-linecap="round" stroke-linejoin="round"/><polyline points="398,276 428,284 448,293 456,300" fill="none" stroke="rgb(97,97,97)" stroke-width="11" stroke-linecap="round" stroke-linejoin="round"/><polyline points="456,300 460,311 452,326" fill="none" stroke="rgb(97,97,97)" stroke-width="6" stroke-linecap="round" stroke-linejoin="round"/><polyline points="398,277 428,285 448,294 454,299" fill="none" stroke="rgb(43,43,43)" stroke-width="6" stroke-linecap="round" stroke-linejoin="round"/><polyline points="472,302 486,304" fill="none" stroke="rgb(97,97,97)" stroke-width="4" stroke-linecap="round" stroke-linejoin="round"/><polyline points="368,192 378,200 392,207 399,212" fill="none" stroke="rgb(168,168,168)" stroke-width="5" stroke-linecap="round" stroke-linejoin="round"/><polyline points="380,203 388,206" fill="none" stroke="rgb(97,97,97)" stroke-width="6" stroke-linecap="round" stroke-linejoin="round"/><polyline points="343,204 357,214 371,223 386,236" fill="none" stroke="rgb(168,168,168)" stroke-width="9" stroke-linecap="round" stroke-linejoin="round"/><polyline points="344,205 357,214 366,220" fill="none" stroke="rgb(97,97,97)" stroke-width="7" stroke-linecap="round" stroke-linejoin="round"/><polyline points="366,220 374,226 386,236" fill="none" stroke="rgb(133,133,133)" stroke-width="5" stroke-linecap="round" stroke-linejoin="round"/><polyline points="349,211 363,219" fill="none" stroke="rgb(43,43,43)" stroke-width="5" stroke-linecap="round" stroke-linejoin="round"/><polyline points="398,232 440,229 480,240 500,246" fill="none" stroke="rgb(168,168,168)" stroke-width="6" stroke-linecap="round" stroke-linejoin="round"/><polyline points="403,237 420,237 435,241 450,245 465,249 490,256" fill="none" stroke="rgb(97,97,97)" stroke-width="9" stroke-linecap="round" stroke-linejoin="round"/><polyline points="415,231 445,232" fill="none" stroke="rgb(97,97,97)" stroke-width="5" stroke-linecap="round" stroke-linejoin="round"/><polyline points="410,239 430,241 450,245 472,251" fill="none" stroke="rgb(20,20,20)" stroke-width="5" stroke-linecap="round" stroke-linejoin="round"/><polyline points="425,233 440,233" fill="none" stroke="rgb(43,43,43)" stroke-width="3" stroke-linecap="round" stroke-linejoin="round"/></g></g><polygon points="115.3,106.8 119.2,106.8 116.2,112" fill="#c8103a"/><polygon points="232,246.5 234,245.8 236,247 237,248.5 235.5,249.2 232.5,247.8" fill="#a01020"/><rect x="247" y="301" width="2" height="2" fill="#8a8088"/><ellipse cx="449.7" cy="352.8" rx="1.2" ry="1.8" fill="#600010"/><polygon points="717.5,292.5 724,293 725,294.5 718,294.5" fill="#601020"/>
<rect x="114.5" y="102.5" width="677.0" height="275.0" fill="none" stroke="#262626" stroke-width="1"/><line x1="114.5" y1="377.5" x2="114.5" y2="370.7" stroke="#262626"/><line x1="114.5" y1="102.5" x2="114.5" y2="109.3" stroke="#262626"/><line x1="214.5" y1="377.5" x2="214.5" y2="370.7" stroke="#262626"/><line x1="214.5" y1="102.5" x2="214.5" y2="109.3" stroke="#262626"/><line x1="314.5" y1="377.5" x2="314.5" y2="370.7" stroke="#262626"/><line x1="314.5" y1="102.5" x2="314.5" y2="109.3" stroke="#262626"/><line x1="415.5" y1="377.5" x2="415.5" y2="370.7" stroke="#262626"/><line x1="415.5" y1="102.5" x2="415.5" y2="109.3" stroke="#262626"/><line x1="515.5" y1="377.5" x2="515.5" y2="370.7" stroke="#262626"/><line x1="515.5" y1="102.5" x2="515.5" y2="109.3" stroke="#262626"/><line x1="615.5" y1="377.5" x2="615.5" y2="370.7" stroke="#262626"/><line x1="615.5" y1="102.5" x2="615.5" y2="109.3" stroke="#262626"/><line x1="715.5" y1="377.5" x2="715.5" y2="370.7" stroke="#262626"/><line x1="715.5" y1="102.5" x2="715.5" y2="109.3" stroke="#262626"/><line x1="114.5" y1="102.5" x2="121.3" y2="102.5" stroke="#262626"/><line x1="791.5" y1="102.5" x2="784.7" y2="102.5" stroke="#262626"/><line x1="114.5" y1="155.5" x2="121.3" y2="155.5" stroke="#262626"/><line x1="791.5" y1="155.5" x2="784.7" y2="155.5" stroke="#262626"/><line x1="114.5" y1="208.5" x2="121.3" y2="208.5" stroke="#262626"/><line x1="791.5" y1="208.5" x2="784.7" y2="208.5" stroke="#262626"/><line x1="114.5" y1="261.5" x2="121.3" y2="261.5" stroke="#262626"/><line x1="791.5" y1="261.5" x2="784.7" y2="261.5" stroke="#262626"/><line x1="114.5" y1="314.5" x2="121.3" y2="314.5" stroke="#262626"/><line x1="791.5" y1="314.5" x2="784.7" y2="314.5" stroke="#262626"/><line x1="114.5" y1="367.5" x2="121.3" y2="367.5" stroke="#262626"/><line x1="791.5" y1="367.5" x2="784.7" y2="367.5" stroke="#262626"/>
<rect x="114.5" y="461.5" width="677.0" height="27.0" fill="url(#jetgrad)" stroke="#262626"/><line x1="243.5" y1="488.5" x2="243.5" y2="483.5" stroke="#262626"/><text x="243.5" y="516" text-anchor="middle" class="cb">2</text><line x1="382.5" y1="488.5" x2="382.5" y2="483.5" stroke="#262626"/><text x="382.5" y="516" text-anchor="middle" class="cb">2.5</text><line x1="521.5" y1="488.5" x2="521.5" y2="483.5" stroke="#262626"/><text x="521.5" y="516" text-anchor="middle" class="cb">3</text><line x1="660.5" y1="488.5" x2="660.5" y2="483.5" stroke="#262626"/><text x="660.5" y="516" text-anchor="middle" class="cb">3.5</text>
<g opacity="0.999"><text x="114.5" y="407" text-anchor="middle" class="tk">-75</text><text x="214.67000000000002" y="407" text-anchor="middle" class="tk">-74</text><text x="314.84000000000003" y="407" text-anchor="middle" class="tk">-73</text><text x="415.01" y="407" text-anchor="middle" class="tk">-72</text><text x="515.1800000000001" y="407" text-anchor="middle" class="tk">-71</text><text x="615.35" y="407" text-anchor="middle" class="tk">-70</text><text x="715.52" y="407" text-anchor="middle" class="tk">-69</text><text x="106" y="110.0" text-anchor="end" class="tk">20</text><text x="106" y="163.0" text-anchor="end" class="tk">19.5</text><text x="106" y="216.0" text-anchor="end" class="tk">19</text><text x="106" y="269.0" text-anchor="end" class="tk">18.5</text><text x="106" y="322.0" text-anchor="end" class="tk">18</text><text x="106" y="375.0" text-anchor="end" class="tk">17.5</text><text x="453" y="94.5" text-anchor="middle" class="ti">REFERENCE ET (mm) Priestly Taylor 11-Jan-2026</text><text x="452.5" y="439" text-anchor="middle" class="lb">Longitude</text><text transform="translate(54,239.5) rotate(-90)" x="0" y="0" text-anchor="middle" class="lb">Latitude</text></g>
</svg></body></html>
